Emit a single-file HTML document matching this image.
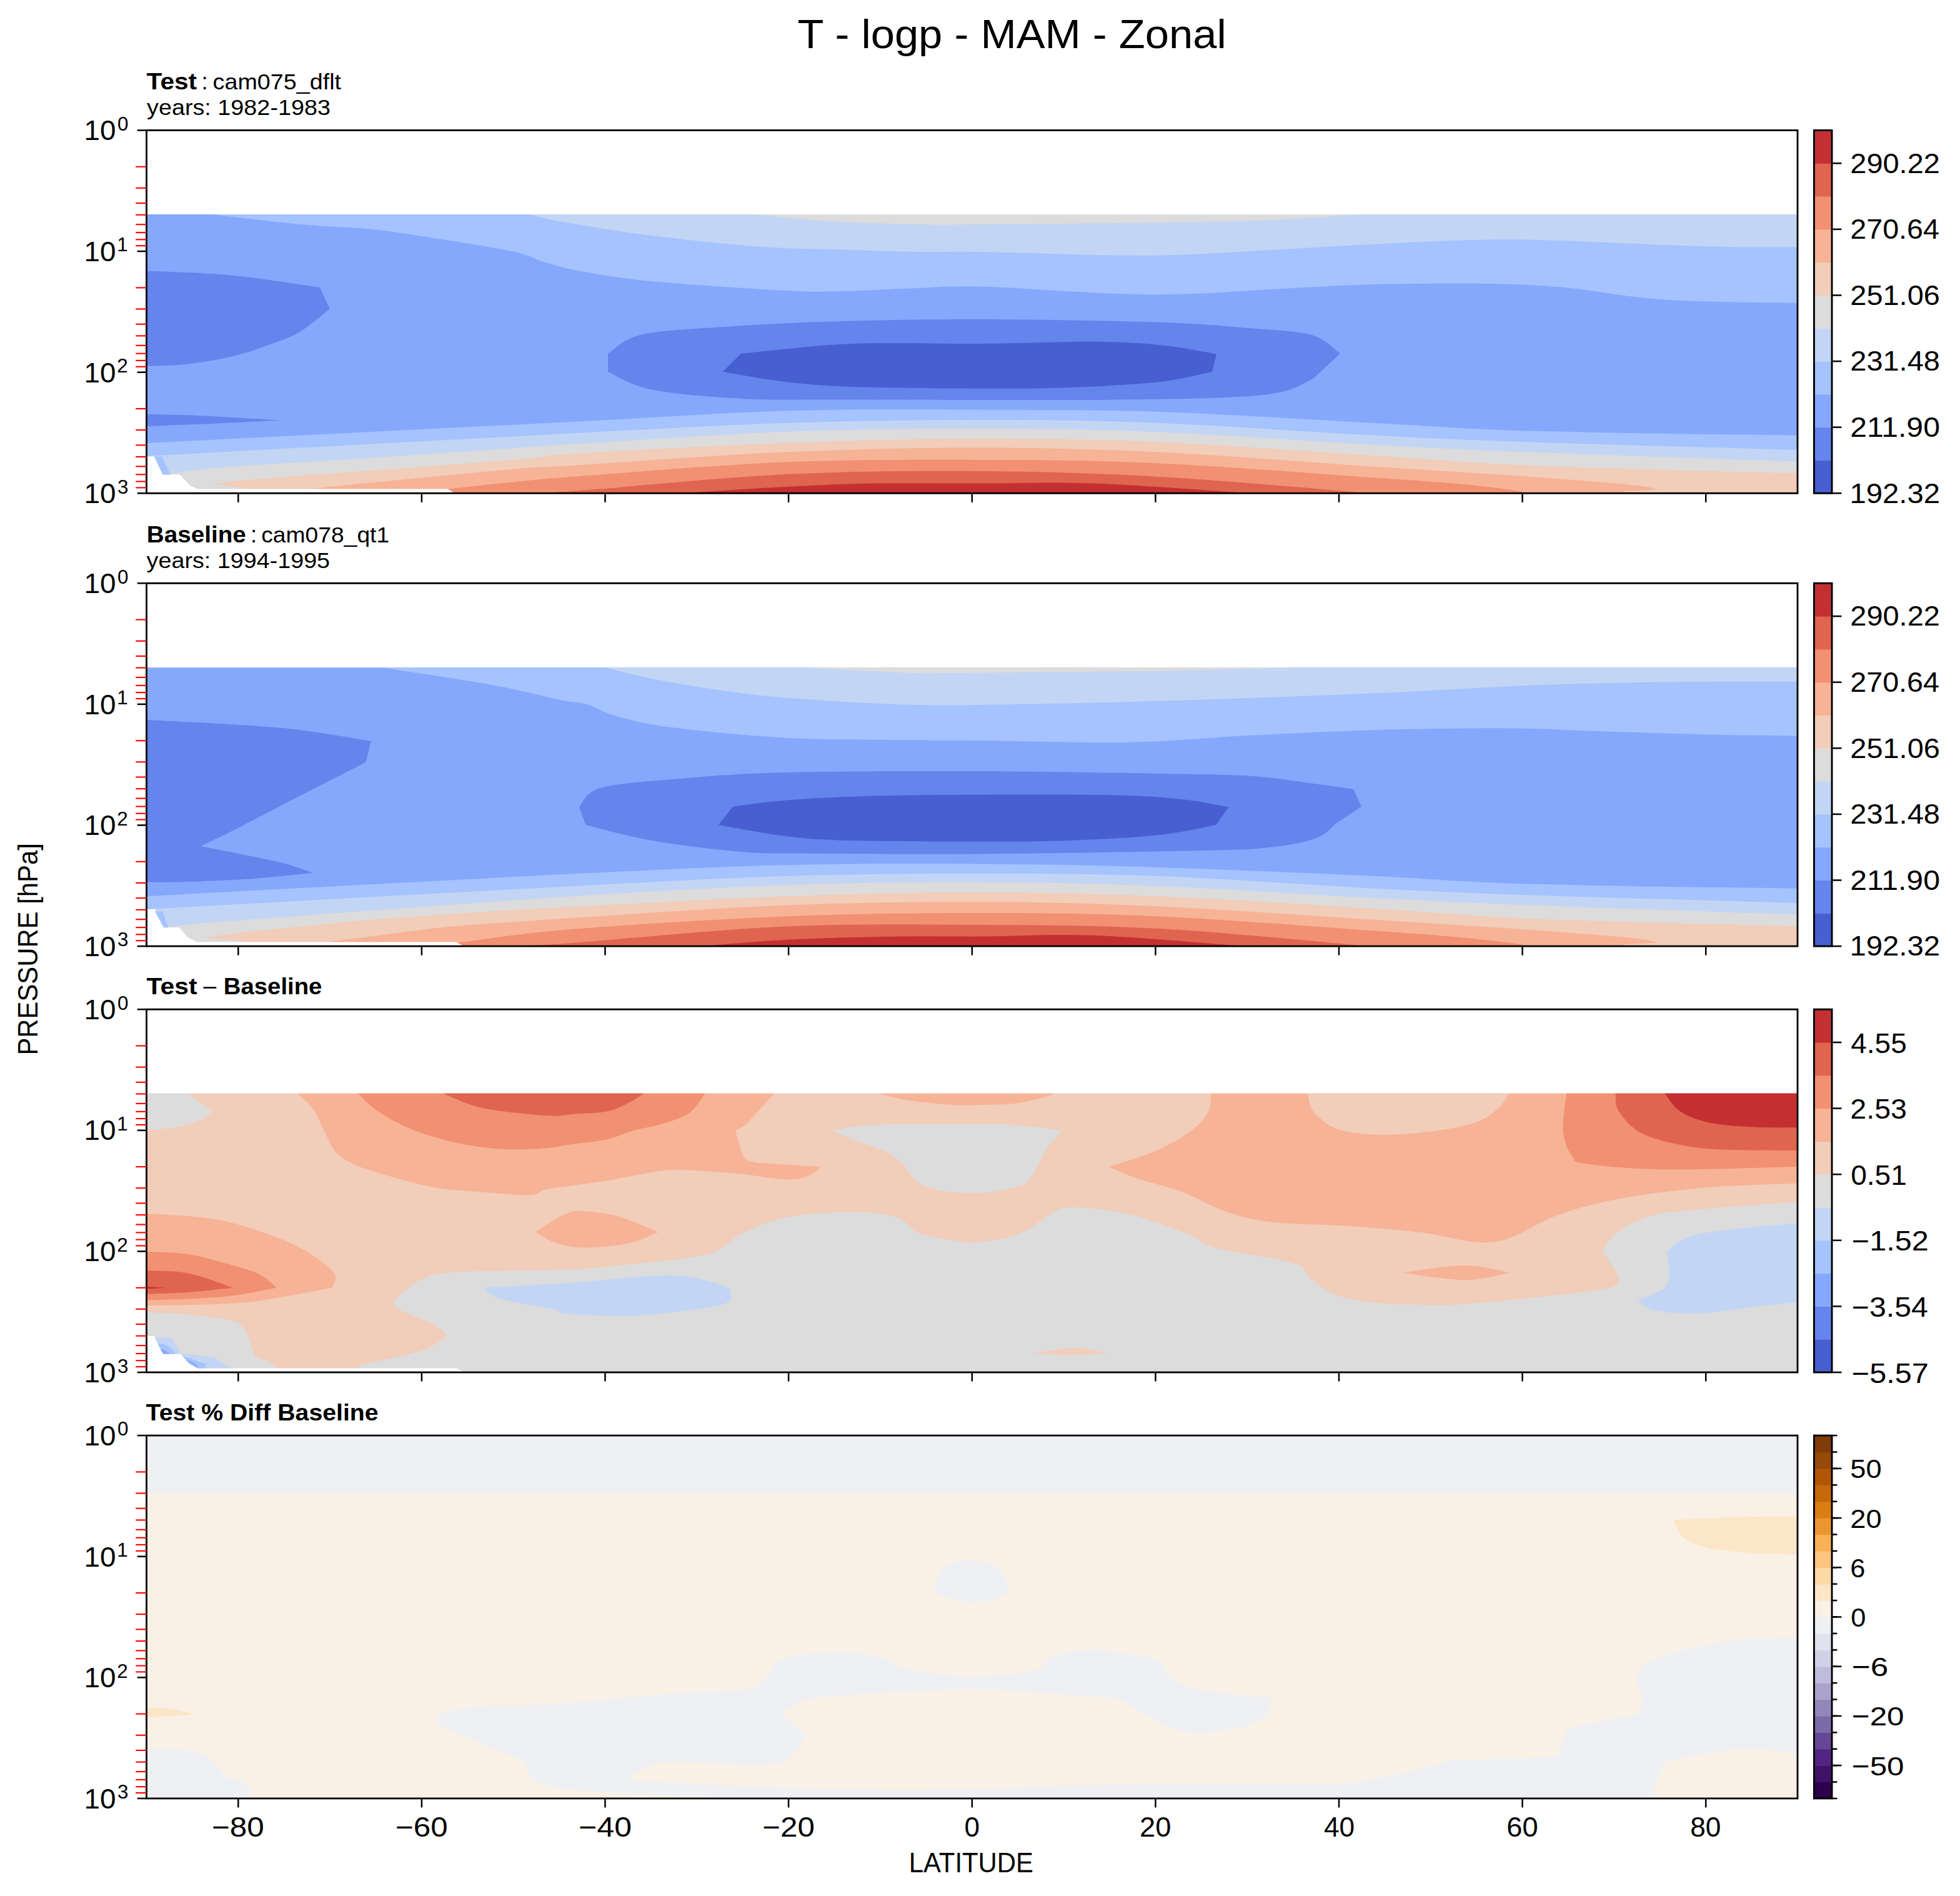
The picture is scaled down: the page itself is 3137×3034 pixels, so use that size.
<!DOCTYPE html><html><head><meta charset="utf-8"><style>html,body{margin:0;padding:0;background:#fff;width:3137px;height:3034px;overflow:hidden}</style></head><body><svg width="3137" height="3034" viewBox="0 0 3137 3034" style="position:absolute;left:0;top:0" font-family='"Liberation Sans", sans-serif'>
<rect width="3137" height="3034" fill="#fff"/>
<clipPath id="c0"><rect x="234.5" y="208.5" width="2642.5" height="580.8"/></clipPath>
<g clip-path="url(#c0)">
<rect x="234.5" y="343.0" width="2642.5" height="447.0" fill="#85a8fc"/>
<path d="M234.5,343 C251.9,343 321.6,343 339,343 C362.5,345.7 438.7,355.2 480,359 C521.3,362.8 555.5,363 587,366 C618.5,369 630.3,371 669,377 C707.7,383 785,394.8 819,402 C853,409.2 854.5,414.7 873,420 C891.5,425.3 901.7,429 930,434 C958.3,439 988.5,444.8 1043,450 C1097.5,455.2 1206.5,462.3 1257,465 C1307.5,467.7 1310.3,466.7 1346,466 C1381.7,465.3 1433.7,462.2 1471,461 C1508.3,459.8 1517.8,457.1 1570,458.6 C1622.2,460.1 1727.5,468.1 1784,470 C1840.5,471.9 1867.3,471.2 1909,470 C1950.7,468.8 1985.5,465.5 2034,463 C2082.5,460.5 2142.5,456.5 2200,455 C2257.5,453.5 2328.3,453.2 2379,454 C2429.7,454.8 2462.3,456.3 2504,460 C2545.7,463.7 2590.3,472.6 2629,476.4 C2667.7,480.1 2694.7,481.1 2736,482.5 C2777.3,483.9 2853.5,484.6 2877,485 L2877,343 L234.5,343 Z" fill="#a5c3fe"/>
<path d="M848,343 C856.7,345 867.5,349.3 900,355 C932.5,360.7 989.5,370.3 1043,377 C1096.5,383.7 1167.5,391.2 1221,395 C1274.5,398.8 1322.3,398.7 1364,400 C1405.7,401.3 1436.7,402.5 1471,403 C1505.3,403.5 1517.8,402.1 1570,403 C1622.2,403.9 1730.5,407.9 1784,408.6 C1837.5,409.4 1849.3,408.9 1891,407.5 C1932.7,406.1 1982.5,402.8 2034,400 C2085.5,397.2 2142.5,393.4 2200,390.7 C2257.5,388 2325.5,384.4 2379,383.6 C2432.5,382.8 2461.5,384.2 2521,386 C2580.5,387.8 2676.7,392.7 2736,394.3 C2795.3,395.9 2853.5,395.5 2877,395.7 L2877,343 L848,343 Z" fill="#c3d5f4"/>
<path d="M1207,343 C1227.3,344.8 1285,351.3 1329,354 C1373,356.7 1430.8,358.2 1471,359 C1511.2,359.8 1505.8,359.5 1570,359 C1634.2,358.5 1778.7,357.2 1856,356 C1933.3,354.8 1980.5,354.2 2034,352 C2087.5,349.8 2153.2,344.5 2177,343 L2177,343 L1207,343 Z" fill="#dddcdc"/>
<path d="M234.5,433.6 C251.6,434.3 307.9,436.1 337,438 C366.1,439.9 379.8,441.3 409,445 C438.2,448.7 494.8,457.5 512,460 C514.7,465.7 525.3,488.3 528,494 C520,500.2 496.3,521.3 480,531 C463.7,540.7 447.8,545.5 430,552 C412.2,558.5 394.5,564.9 373,570 C351.5,575.1 324.1,579.8 301,582.5 C277.9,585.2 245.6,585.4 234.5,586 C234.5,560.6 234.5,459 234.5,433.6 Z" fill="#6485ec"/>
<path d="M234.5,663 C240.9,663.1 255.9,663.1 273,663.6 C290.1,664.1 307.8,664.5 337,666 C366.2,667.5 429.5,671.4 448,672.5 C429.5,673.4 372.6,676.4 337,678 C301.4,679.6 251.6,681.3 234.5,682 C234.5,678.8 234.5,666.2 234.5,663 Z" fill="#6485ec"/>
<path d="M973,566 C981.7,561 995.5,543.1 1025,536 C1054.5,528.9 1099.3,527.2 1150,523.6 C1200.7,520 1259,516.7 1329,514.6 C1399,512.5 1482.2,510.8 1570,511 C1657.8,511.2 1784.5,513.4 1856,515.7 C1927.5,518 1958.5,521.6 1999,525 C2039.5,528.4 2074.7,529.2 2099,536 C2123.3,542.8 2137.3,560.8 2145,565.7 C2137.8,572.4 2109.2,599 2102,605.7 C2093.7,609.2 2075.2,622 2052,627 C2028.8,632 2007.7,633.9 1963,636 C1918.3,638.1 1849.5,638.9 1784,639.6 C1718.5,640.3 1645.8,640 1570,640 C1494.2,640 1393,639.9 1329,639.6 C1265,639.3 1233.7,640.7 1186,638 C1138.3,635.3 1078.5,630.8 1043,623.6 C1007.5,616.4 984.7,599.8 973,595 C973,590.2 973,570.8 973,566 Z" fill="#6485ec"/>
<path d="M1157,595 C1161.8,590.1 1181.2,570.6 1186,565.7 C1215.7,563.1 1300,552.6 1364,550 C1428,547.4 1505.8,550.5 1570,550 C1634.2,549.5 1701.3,546.5 1749,546.8 C1796.7,547.1 1823,548.7 1856,552 C1889,555.3 1931.8,564 1947,566.4 C1945.8,571.2 1941.2,590.2 1940,595 C1926,597.7 1893.8,606.8 1856,611 C1818.2,615.2 1760.7,618.2 1713,620 C1665.3,621.8 1628.2,622 1570,621.8 C1511.8,621.6 1416.2,620.8 1364,619 C1311.8,617.2 1291.5,615 1257,611 C1222.5,607 1173.7,597.7 1157,595 Z" fill="#485fd1"/>
<path d="M234.5,709 C347.9,703.3 744.6,683.6 915,675 C1085.4,666.4 1147.8,660.7 1257,657.5 C1366.2,654.3 1470.2,655.5 1570,655.7 C1669.8,656 1751,655.5 1856,659 C1961,662.5 2101,671.9 2200,677 C2299,682.1 2337.2,686.3 2450,689.6 C2562.8,692.9 2805.8,695.6 2877,696.8 L2877,790 L234.5,790 Z" fill="#a5c3fe"/>
<path d="M234.5,730 C347.9,723.9 744.6,702.3 915,693.5 C1085.4,684.7 1147.8,680.6 1257,677 C1366.2,673.4 1470.2,671.8 1570,671.8 C1669.8,671.8 1751,672.8 1856,677 C1961,681.2 2101,691.7 2200,696.8 C2299,701.9 2337.2,703.6 2450,707.5 C2562.8,711.4 2805.8,717.9 2877,720 L2877,790 L234.5,790 Z" fill="#c3d5f4"/>
<path d="M234.5,760 C243.4,759.3 273.4,757.5 288,756 C302.6,754.5 306.2,752.7 322,751 C337.8,749.3 347.3,748.4 383,746 C418.7,743.6 461.5,741.5 536,736.6 C610.5,731.7 766.8,721 830,716.7 C893.2,712.4 843.8,715.3 915,711 C986.2,706.7 1147.8,695.2 1257,691 C1366.2,686.8 1470.2,685.9 1570,686 C1669.8,686.1 1751,687.1 1856,691.4 C1961,695.7 2101,706.6 2200,712 C2299,717.4 2337.2,719.2 2450,723.6 C2562.8,728 2805.8,736.1 2877,738.6 L2877,790 L234.5,790 Z" fill="#dddcdc"/>
<path d="M390.7,781 C382.4,780.1 349,776.3 340.7,775.4 C347.8,774.3 355.5,771.6 383,769 C410.5,766.4 431,765.3 505.5,759.6 C580,753.9 761.8,740.6 830,735 C898.2,729.4 843.8,730.3 915,726 C986.2,721.7 1147.8,713 1257,709 C1366.2,705 1470.2,702.2 1570,702 C1669.8,701.8 1751,703 1856,707.5 C1961,712 2101,722.8 2200,729 C2299,735.2 2337.2,740.2 2450,745 C2562.8,749.8 2805.8,755.4 2877,757.5 L2877,790 L390.7,790 Z" fill="#f1cdba"/>
<path d="M496,782.5 C512.8,780.8 541.3,777.4 597,772 C652.7,766.6 777,754.5 830,750 C883,745.5 843.8,749.4 915,745 C986.2,740.6 1147.8,728.4 1257,723.6 C1366.2,718.8 1470.2,716.4 1570,716.4 C1669.8,716.4 1751,718.5 1856,723.6 C1961,728.7 2101,740.2 2200,746.8 C2299,753.4 2381.5,758.1 2450,763 C2518.5,767.9 2576.8,772.6 2611,776 C2645.2,779.4 2647.7,782.3 2655,783.6 C2645.8,784.1 2609.2,786 2600,786.5 L2600,790 L496,790 Z" fill="#f7b396"/>
<path d="M716.7,782.5 C730.8,781 768,776.9 801,773.6 C834,770.4 839,768.7 915,763 C991,757.3 1147.8,744.1 1257,739.6 C1366.2,735.1 1470.2,735.7 1570,736 C1669.8,736.3 1751,736.6 1856,741.4 C1961,746.2 2118.8,759 2200,764.6 C2281.2,770.2 2304.3,771.4 2343,775 C2381.7,778.6 2415.8,783.5 2432,786 C2448.2,788.5 2438.7,789.3 2440,790 L2440,790 L716.7,790 Z" fill="#f29072"/>
<path d="M837,788 C850,787.7 845,790.8 915,786 C985,781.2 1147.8,764.3 1257,759 C1366.2,753.7 1470.2,753.3 1570,754 C1669.8,754.7 1754.8,757.3 1856,763 C1957.2,768.7 2123,783.5 2177,788 C2231,792.5 2179.5,789.7 2180,790 L2180,790 L837,790 Z" fill="#e0654f"/>
<path d="M1079,790 C1108.7,788.2 1203.5,781.7 1257,779 C1310.5,776.3 1347.8,774.5 1400,773.6 C1452.2,772.7 1511.8,773.6 1570,773.6 C1628.2,773.6 1680.5,771.2 1749,773.6 C1817.5,776 1940.8,785.3 1981,788 C2021.2,790.7 1988.5,789.7 1990,790 L1990,790 L1079,790 Z" fill="#c43032"/>
<polygon points="234.5,730.5 246.8,730.5 260.6,759.6 288.2,759.6 303.5,776.4 315.7,782.5 716.7,782.5 726,788 726,790 234.5,790" fill="#fff"/>
<polygon points="246.8,730.5 260.6,759.6 272.9,759.6 259,730.5" fill="#a5c3fe"/>
</g>
<clipPath id="c1"><rect x="234.5" y="933.3" width="2642.5" height="580.8"/></clipPath>
<g clip-path="url(#c1)">
<rect x="234.5" y="1068.2" width="2642.5" height="446.79999999999995" fill="#85a8fc"/>
<path d="M234.5,1068.2 C296.9,1068.2 546.2,1068.2 608.6,1068.2 C622.8,1070.3 661.9,1075.6 694,1080.7 C726.1,1085.8 766.7,1091.9 801,1098.6 C835.3,1105.3 877,1116 900,1120.7 C923,1125.4 924.4,1122.7 939.3,1127 C954.2,1131.3 966.1,1140.5 989.3,1146.8 C1012.5,1153.1 1034,1158.9 1078.6,1164.6 C1123.2,1170.2 1197.5,1177.4 1257,1180.7 C1316.5,1184 1383.5,1183.6 1435.7,1184.3 C1487.9,1185 1509,1184.4 1570,1185 C1631,1185.6 1730.6,1189.2 1802,1187.9 C1873.4,1186.6 1932.3,1180.3 1998.6,1177 C2064.9,1173.7 2130.8,1170.1 2200,1168.2 C2269.2,1166.3 2354.5,1165.1 2414,1165.4 C2473.5,1165.7 2503.4,1168.3 2557,1170 C2610.6,1171.7 2682.4,1174.1 2735.7,1175.4 C2789,1176.7 2853.4,1177.5 2877,1177.9 L2877,1068.2 L234.5,1068.2 Z" fill="#a5c3fe"/>
<path d="M969.6,1068.2 C981.8,1071.2 1012.9,1080 1043,1086 C1073.1,1092 1114.3,1098.9 1150,1104 C1185.7,1109.1 1209.4,1112.6 1257,1116.4 C1304.6,1120.2 1383.5,1125.1 1435.7,1127 C1487.9,1128.9 1500,1128.8 1570,1127.9 C1640,1127 1750.7,1124.9 1855.7,1121.8 C1960.7,1118.7 2100.9,1113.5 2200,1109.3 C2299.1,1105.1 2372.6,1099.8 2450,1096.8 C2527.4,1093.8 2593.1,1092.4 2664.3,1091.4 C2735.5,1090.4 2841.6,1090.8 2877,1090.7 L2877,1068.2 L969.6,1068.2 Z" fill="#c3d5f4"/>
<path d="M1292.9,1068.2 C1319.7,1069.6 1407.4,1075 1453.6,1076.4 C1499.8,1077.8 1503,1076.9 1570,1076.4 C1637,1075.9 1771.2,1075 1855.7,1073.6 C1940.2,1072.2 2040.1,1069.1 2077,1068.2 L2077,1068.2 L1292.9,1068.2 Z" fill="#dddcdc"/>
<path d="M234.5,1152 C257.6,1153.2 332.1,1156.6 373,1159.3 C413.9,1162 443.2,1163.5 480,1168 C516.8,1172.5 575,1183 594,1186 C592.6,1191.7 586.8,1214.3 585.4,1220 C567.8,1228.9 512.5,1256.9 480,1273.6 C447.6,1290.3 411.5,1309.3 390.7,1320 C369.9,1330.7 366.6,1332.3 355,1338 C343.4,1343.7 326.7,1351.3 321,1354 C341.5,1358.2 413.9,1371.9 444,1379 C474.1,1386.1 491.8,1393.8 501.4,1396.8 C485.9,1398.3 441.9,1403.3 408.6,1405.7 C375.3,1408.1 330.4,1410 301.4,1411 C272.4,1412 245.7,1411.7 234.5,1411.8 C234.5,1368.5 234.5,1195.3 234.5,1152 Z" fill="#6485ec"/>
<path d="M926.8,1291.4 C932.4,1286.3 935.4,1268.4 960.7,1261 C986,1253.6 1029.2,1251 1078.6,1246.8 C1128,1242.6 1175.1,1238.1 1257,1236 C1338.9,1233.9 1470.2,1234 1570,1234.3 C1669.8,1234.6 1784.3,1236.7 1855.7,1237.9 C1927.1,1239.1 1959.9,1239.1 1998.6,1241.4 C2037.3,1243.8 2059.9,1248.4 2087.9,1252 C2115.9,1255.6 2153.3,1261.1 2166.4,1262.9 C2168.5,1267.5 2176.9,1286.1 2179,1290.7 C2172.2,1295.3 2144.8,1313.6 2137.9,1318.2 C2132.5,1322.1 2123,1335.2 2105.7,1341.4 C2088.4,1347.7 2063.8,1352.4 2034,1355.7 C2004.2,1359 2004.3,1359.2 1927,1361 C1849.7,1362.8 1675.7,1365.6 1570,1366.4 C1464.3,1367.2 1357,1366.3 1292.9,1365.7 C1228.9,1365.1 1227.4,1366.4 1185.7,1362.9 C1144,1359.5 1084.4,1352.2 1043,1345 C1001.6,1337.8 955.1,1324.2 937.5,1320 C935.7,1315.2 928.6,1296.2 926.8,1291.4 Z" fill="#6485ec"/>
<path d="M1150,1320 C1153.8,1315.1 1169.2,1295.6 1173,1290.7 C1187,1289 1219.2,1283.6 1257,1280.7 C1294.8,1277.8 1347.8,1275.1 1400,1273.6 C1452.2,1272.1 1506,1272 1570,1271.8 C1634,1271.6 1730.4,1271.3 1784,1272.5 C1837.6,1273.7 1861,1275.8 1891.4,1279 C1921.8,1282.2 1953.9,1289.3 1966.4,1291.4 C1963.1,1296.2 1950.1,1315.2 1946.8,1320 C1931.6,1322.7 1894.7,1331.8 1855.7,1336 C1816.7,1340.2 1760.5,1343.2 1712.9,1345 C1665.3,1346.8 1628.2,1346.8 1570,1346.8 C1511.8,1346.8 1416.2,1346.5 1364,1345 C1311.8,1343.5 1292.7,1342.1 1257,1337.9 C1221.3,1333.7 1167.8,1323 1150,1320 Z" fill="#485fd1"/>
<path d="M234.5,1434.3 C347.9,1428.3 744.6,1406.9 915,1398.6 C1085.4,1390.3 1147.8,1387 1257,1384.3 C1366.2,1381.6 1470.2,1381.9 1570,1382.5 C1669.8,1383.1 1750.7,1384.7 1855.7,1387.9 C1960.7,1391.2 2100.9,1397.5 2200,1402 C2299.1,1406.5 2337.2,1411.3 2450,1414.6 C2562.8,1417.9 2805.8,1420.6 2877,1421.8 L2877,1515 L234.5,1515 Z" fill="#a5c3fe"/>
<path d="M234.5,1455 C347.9,1448.9 744.6,1427 915,1418.2 C1085.4,1409.4 1147.8,1405.4 1257,1402 C1366.2,1398.6 1470.2,1397.9 1570,1397.9 C1669.8,1397.9 1750.7,1398 1855.7,1402 C1960.7,1406 2100.9,1416.7 2200,1421.8 C2299.1,1426.9 2337.2,1428.6 2450,1432.5 C2562.8,1436.4 2805.8,1442.9 2877,1445 L2877,1515 L234.5,1515 Z" fill="#c3d5f4"/>
<path d="M234.5,1485 C243.2,1484.4 263.9,1483.3 287,1481.4 C310.1,1479.5 268.3,1481.4 373,1473.6 C477.7,1465.8 767.7,1444.1 915,1434.6 C1062.3,1425.1 1147.8,1420.2 1257,1416.4 C1366.2,1412.6 1470.2,1411.5 1570,1411.8 C1669.8,1412.1 1750.7,1414 1855.7,1418.2 C1960.7,1422.4 2100.9,1431.9 2200,1437 C2299.1,1442.1 2337.2,1444.2 2450,1448.6 C2562.8,1453 2805.8,1461.1 2877,1463.6 L2877,1515 L234.5,1515 Z" fill="#dddcdc"/>
<path d="M390.7,1506.4 C380.2,1505.4 338.4,1501.4 328,1500.4 C337.2,1499.1 358.5,1495.7 383,1492.8 C407.5,1489.9 439.2,1486.8 474.9,1483.3 C510.6,1479.8 556.5,1475 597.3,1471.6 C638.1,1468.2 680.9,1465.5 719.7,1462.8 C758.5,1460.1 797.5,1457.4 830,1455.5 C862.5,1453.6 843.8,1454.7 915,1451.2 C986.2,1447.7 1147.8,1438.2 1257,1434.3 C1366.2,1430.4 1470.2,1427.9 1570,1427.9 C1669.8,1427.9 1750.7,1430 1855.7,1434.3 C1960.7,1438.6 2100.9,1448 2200,1453.9 C2299.1,1459.9 2337.2,1465.2 2450,1470 C2562.8,1474.8 2805.8,1480.4 2877,1482.5 L2877,1515 L390.7,1515 Z" fill="#f1cdba"/>
<path d="M523.8,1507.3 C536,1505.8 564.6,1502.1 597.3,1498 C629.9,1493.9 680.9,1486.5 719.7,1482.7 C758.5,1478.9 797.5,1477.3 830,1475 C862.5,1472.7 843.8,1473.4 915,1469 C986.2,1464.6 1147.8,1452.9 1257,1448.6 C1366.2,1444.3 1470.2,1442.9 1570,1443.2 C1669.8,1443.5 1750.7,1445.6 1855.7,1450.4 C1960.7,1455.2 2100.9,1465.5 2200,1471.8 C2299.1,1478 2381.6,1483 2450,1487.9 C2518.4,1492.8 2576.5,1497.6 2610.7,1501 C2644.9,1504.4 2647.6,1507.2 2655,1508.4 C2645.8,1508.9 2609.2,1510.8 2600,1511.3 L2600,1515 L523.8,1515 Z" fill="#f7b396"/>
<path d="M730,1509 C760.8,1505.3 827.2,1494.1 915,1487 C1002.8,1479.9 1147.8,1470.7 1257,1466.4 C1366.2,1462.1 1470.2,1461 1570,1461 C1669.8,1461 1750.7,1461.6 1855.7,1466.4 C1960.7,1471.2 2118.8,1483.9 2200,1489.6 C2281.2,1495.3 2301.3,1496.5 2343,1500.4 C2384.7,1504.3 2431.3,1510.6 2450,1513 C2468.7,1515.4 2454.2,1514.7 2455,1515 L2455,1515 L730,1515 Z" fill="#f29072"/>
<path d="M837,1513 C850,1512.3 845,1514.1 915,1509 C985,1503.9 1147.8,1487.3 1257,1482.5 C1366.2,1477.7 1470.2,1479.4 1570,1480 C1669.8,1480.6 1754.5,1480.5 1855.7,1486 C1956.9,1491.5 2122.9,1508.2 2177,1513 C2231.1,1517.8 2179.5,1514.7 2180,1515 L2180,1515 L837,1515 Z" fill="#e0654f"/>
<path d="M1114,1515 C1137.8,1513.2 1203.4,1506.7 1257,1504 C1310.6,1501.3 1383.5,1499.5 1435.7,1498.6 C1487.9,1497.7 1517.8,1498.9 1570,1498.6 C1622.2,1498.3 1680.1,1494.4 1748.6,1496.8 C1817,1499.2 1940.5,1510 1980.7,1513 C2020.9,1516 1988.5,1514.7 1990,1515 L1990,1515 L1114,1515 Z" fill="#c43032"/>
<polygon points="234.5,1455 247.9,1455 262,1484.3 287,1484.3 301.4,1500.4 315.7,1507.5 730,1507.5 740.7,1513 740.7,1515 234.5,1515" fill="#fff"/>
<polygon points="247.9,1458.6 262,1484.3 269.3,1484.3 260.4,1458.6" fill="#a5c3fe"/>
</g>
<clipPath id="c2"><rect x="234.5" y="1615.2" width="2642.5" height="580.8"/></clipPath>
<g clip-path="url(#c2)">
<rect x="234.5" y="1749.7" width="2642.5" height="447.29999999999995" fill="#f1cdba"/>
<path d="M476.4,1749.7 C480.6,1753.9 494.2,1764.8 501.4,1775 C508.5,1785.2 513.4,1799.4 519.3,1810.7 C525.2,1822 528.7,1834 537,1842.9 C545.3,1851.8 555,1857.8 569.3,1864.3 C583.6,1870.8 602.1,1876.1 622.9,1882.1 C643.7,1888 670.5,1895.8 694.3,1900 C718.1,1904.2 740.1,1904.9 765.7,1907 C791.3,1909.1 830,1913.1 847.9,1912.5 C865.8,1911.9 861.7,1906.1 872.9,1903.6 C884.1,1901.1 898.6,1899.7 915,1897.3 C931.4,1894.9 947.1,1893.3 971.4,1889.3 C995.7,1885.3 1036.9,1875.9 1060.7,1873.2 C1084.5,1870.5 1093.5,1872.3 1114.3,1873.2 C1135.1,1874.1 1161.9,1876.2 1185.7,1878.6 C1209.5,1881 1239.1,1886.9 1257,1887.5 C1274.9,1888.1 1283.4,1885.4 1292.9,1882 C1302.5,1878.6 1310.7,1869.6 1314.3,1867.1 C1304.8,1866.5 1275.5,1865 1257,1863.6 C1238.5,1862.2 1214.9,1861.5 1203.6,1858.9 C1192.3,1856.3 1193.8,1856.5 1189.3,1848.2 C1184.8,1839.9 1178.9,1815.5 1176.8,1808.9 C1180.1,1806.8 1186,1806.3 1196.4,1796.4 C1206.8,1786.5 1232.2,1757.5 1239.3,1749.7 C1112.1,1749.7 603.5,1749.7 476.4,1749.7 Z" fill="#f7b396"/>
<path d="M1405.4,1749.7 C1413.4,1751.5 1433.7,1757.7 1453.6,1760.7 C1473.5,1763.7 1505.6,1766.7 1525,1767.9 C1544.4,1769.1 1553.6,1768.2 1570,1767.9 C1586.4,1767.6 1607.5,1767.8 1623.6,1766 C1639.7,1764.2 1655.7,1759.8 1666.4,1757.1 C1677.1,1754.4 1684.3,1750.9 1687.9,1749.7 C1640.8,1749.7 1452.5,1749.7 1405.4,1749.7 Z" fill="#f7b396"/>
<path d="M1937.9,1749.7 C1937.3,1754.5 1939.1,1769 1934.3,1778.6 C1929.5,1788.2 1922.4,1797 1909.3,1807.1 C1896.2,1817.2 1878,1829.3 1855.7,1839.3 C1833.4,1849.3 1788.8,1862.5 1775.4,1867.1 C1782.8,1870.2 1800.7,1879 1820,1885.7 C1839.3,1892.4 1867.6,1898.2 1891.4,1907.1 C1915.2,1916 1939.1,1931.2 1962.9,1939.3 C1986.7,1947.3 2004.5,1951.8 2034.3,1955.4 C2064.1,1959 2113.8,1959.1 2141.4,1960.7 C2169,1962.3 2176.6,1962.9 2200,1965 C2223.4,1967.1 2255.3,1969.5 2282.1,1973.2 C2308.9,1977 2338.7,1986 2360.7,1987.5 C2382.7,1989 2392.3,1989.2 2414.3,1982.1 C2436.3,1974.9 2463.1,1955.3 2492.9,1944.6 C2522.7,1933.9 2552.4,1925.3 2592.9,1917.9 C2633.4,1910.5 2688.3,1904 2735.7,1900 C2783,1896 2853.4,1894.7 2877,1893.6 C2877,1869.6 2877,1773.7 2877,1749.7 C2720.5,1749.7 2094.4,1749.7 1937.9,1749.7 Z" fill="#f7b396"/>
<path d="M2093.2,1749.7 C2094.7,1754.5 2094.1,1769 2102.1,1778.6 C2110.1,1788.2 2122.9,1800.9 2141.4,1807.1 C2159.9,1813.3 2188.2,1815.4 2212.9,1816 C2237.6,1816.6 2264.7,1814 2289.3,1810.7 C2313.9,1807.4 2342.8,1802.4 2360.7,1796.4 C2378.5,1790.5 2387.2,1782.8 2396.4,1775 C2405.6,1767.2 2412.7,1753.9 2416,1749.7 C2362.2,1749.7 2147,1749.7 2093.2,1749.7 Z" fill="#f1cdba"/>
<path d="M572.9,1749.7 C578.2,1754.5 590.7,1769 605,1778.6 C619.3,1788.1 637.8,1798.7 658.6,1807 C679.4,1815.3 706.2,1823.3 730,1828.6 C753.8,1833.9 777.6,1837.1 801.4,1838.6 C825.2,1840.1 854,1838.8 872.9,1837.5 C891.8,1836.2 898.6,1833.4 915,1831 C931.4,1828.6 954.9,1826.9 971.4,1823.2 C987.9,1819.5 999.4,1813.2 1014.3,1809 C1029.2,1804.8 1045.8,1803 1060.7,1798.2 C1075.6,1793.4 1092.3,1788.5 1103.6,1780.4 C1114.9,1772.3 1124.4,1754.8 1128.6,1749.7 C1036,1749.7 665.5,1749.7 572.9,1749.7 Z" fill="#f29072"/>
<path d="M708.6,1749.7 C718.1,1753.3 744.3,1766 765.7,1771.4 C787.1,1776.8 816.2,1779.6 837,1782 C857.8,1784.4 877.7,1785.5 890.7,1785.7 C903.7,1785.9 901.5,1784.2 915,1783 C928.5,1781.8 956.1,1781.7 971.4,1778.6 C986.7,1775.5 997.2,1769.1 1007,1764.3 C1016.8,1759.5 1026.5,1752.1 1030.4,1749.7 C976.8,1749.7 762.2,1749.7 708.6,1749.7 Z" fill="#e0654f"/>
<path d="M2507.1,1749.7 C2506.2,1759.9 2500.3,1794 2501.8,1810.7 C2503.3,1827.4 2509.8,1841.4 2516,1850 C2522.2,1858.6 2514.6,1858.9 2539.3,1862.5 C2564,1866.1 2608,1870.6 2664.3,1871.4 C2720.6,1872.2 2841.6,1867.8 2877,1867.1 C2877,1847.5 2877,1769.3 2877,1749.7 C2815.3,1749.7 2568.8,1749.7 2507.1,1749.7 Z" fill="#f29072"/>
<path d="M2585.7,1749.7 C2586.6,1754.5 2583.8,1767.8 2591,1778.6 C2598.2,1789.4 2610.4,1805.1 2628.6,1814.3 C2646.8,1823.5 2676.2,1829.6 2700,1833.9 C2723.8,1838.2 2741.9,1838.8 2771.4,1840 C2800.9,1841.2 2859.4,1840.9 2877,1841.1 C2877,1825.9 2877,1764.9 2877,1749.7 C2828.4,1749.7 2634.2,1749.7 2585.7,1749.7 Z" fill="#e0654f"/>
<path d="M2664.3,1749.7 C2668.5,1754.5 2677.4,1770.8 2689.3,1778.6 C2701.2,1786.4 2716.1,1792.2 2735.7,1796.4 C2755.3,1800.6 2783.5,1802.3 2807.1,1803.6 C2830.7,1804.9 2865.3,1804.2 2877,1804.3 C2877,1795.2 2877,1758.8 2877,1749.7 C2841.6,1749.7 2699.8,1749.7 2664.3,1749.7 Z" fill="#c43032"/>
<path d="M234.5,1749.7 C245.3,1749.7 288.8,1749.7 299.6,1749.7 C306.5,1754.5 333.9,1773.8 340.7,1778.6 C337.1,1781 328.8,1788.7 319.3,1792.9 C309.8,1797.1 297.7,1800.9 283.6,1803.6 C269.5,1806.3 242.7,1808 234.5,1808.9 C234.5,1799 234.5,1759.6 234.5,1749.7 Z" fill="#dddcdc"/>
<path d="M1332.1,1808.9 C1343.4,1807.4 1360.3,1801.7 1400,1800 C1439.7,1798.3 1532.7,1798.9 1570,1798.9 C1607.3,1798.9 1601.9,1798.3 1623.6,1800 C1645.3,1801.7 1687.6,1807.4 1700.4,1808.9 C1696.5,1813.4 1683.9,1825.9 1677.1,1835.7 C1670.2,1845.5 1664.6,1858.7 1659.3,1867.9 C1654,1877.1 1651,1885.8 1645,1891.1 C1639,1896.4 1636.1,1897 1623.6,1900 C1611.1,1903 1589.4,1908 1570,1908.9 C1550.6,1909.8 1524.1,1908.4 1507.1,1905.4 C1490.1,1902.4 1478,1897.9 1467.9,1891.1 C1457.8,1884.2 1454.7,1872.3 1446.4,1864.3 C1438.1,1856.3 1431.6,1849.8 1417.9,1842.9 C1404.2,1836.1 1378.6,1828.9 1364.3,1823.2 C1350,1817.5 1337.5,1811.3 1332.1,1808.9 Z" fill="#dddcdc"/>
<path d="M856.8,1971.4 C862.4,1967.8 881.1,1955.3 890.7,1950 C900.3,1944.7 906.8,1941.3 914.3,1939.3 C921.8,1937.3 923.2,1937 935.7,1938.2 C948.2,1939.4 969.6,1940.9 989.3,1946.4 C1008.9,1951.9 1042.9,1967.2 1053.6,1971.4 C1045.8,1974.4 1026.7,1985.1 1007,1989.3 C987.4,1993.5 955.1,1996.4 935.7,1996.4 C916.3,1996.4 903.9,1993.5 890.7,1989.3 C877.6,1985.1 862.4,1974.4 856.8,1971.4 Z" fill="#f7b396"/>
<path d="M234.5,1941.8 C251.6,1943.2 308,1945.7 337,1950 C366,1954.3 384.8,1960.2 408.6,1967.9 C432.4,1975.6 459.2,1985.1 480,1996.4 C500.8,2007.7 525,2025 533.6,2035.7 C542.2,2046.4 532.1,2056.5 531.8,2060.7 C517.2,2063.4 470.5,2072.6 444,2076.8 C417.5,2081 407.8,2083.6 372.9,2085.7 C338,2087.8 257.6,2088.7 234.5,2089.3 C234.5,2064.7 234.5,1966.4 234.5,1941.8 Z" fill="#f7b396"/>
<path d="M234.5,2002.9 C245.7,2003.6 278.3,2003.3 301.4,2007 C324.5,2010.7 353.8,2019.6 372.9,2025 C391.9,2030.4 404.1,2033.3 415.7,2039.3 C427.3,2045.2 438,2057.1 442.5,2060.7 C430.9,2062.8 396.4,2070.2 372.9,2073.2 C349.4,2076.2 324.5,2077.4 301.4,2078.6 C278.3,2079.8 245.7,2080.1 234.5,2080.4 C234.5,2067.5 234.5,2015.8 234.5,2002.9 Z" fill="#f29072"/>
<path d="M234.5,2032.9 C245.7,2033.7 278.3,2032.9 301.4,2037.5 C324.5,2042.1 361,2056.8 372.9,2060.7 C361,2061.9 324.5,2066.2 301.4,2067.9 C278.3,2069.6 245.7,2070.2 234.5,2070.7 C234.5,2064.4 234.5,2039.2 234.5,2032.9 Z" fill="#e0654f"/>
<polygon points="234.5,2059 264,2060.7 234.5,2062.5" fill="#c43032"/>
<path d="M572.9,2189.3 C575.2,2188.1 569.8,2186.8 587,2182 C604.2,2177.2 654.9,2168.1 676.4,2160.7 C697.9,2153.3 709.2,2141.4 715.7,2137.5 C712.1,2134.5 707.4,2126.8 694.3,2119.6 C681.2,2112.4 647.4,2101.1 637,2094.6 C626.6,2088.1 632.7,2082.8 631.8,2080.4 C633.3,2078.9 633.3,2077.1 640.7,2071.4 C648.1,2065.7 661.5,2052.3 676.4,2046.4 C691.3,2040.5 690.2,2038.3 730,2035.7 C769.8,2033.1 868.8,2033.1 915,2031 C961.2,2028.9 970.8,2027.2 1007,2023.2 C1043.2,2019.2 1102.3,2015.1 1132.1,2007.1 C1161.9,1999.1 1164.9,1984.8 1185.7,1975 C1206.5,1965.2 1227.2,1954.2 1257,1948.2 C1286.8,1942.2 1334.5,1939.3 1364.3,1939.3 C1394.1,1939.3 1417.8,1942.5 1435.7,1948.2 C1453.6,1953.9 1453.5,1966.7 1471.4,1973.2 C1489.3,1979.8 1526.5,1985.1 1542.9,1987.5 C1559.3,1989.9 1554.8,1989.9 1570,1987.5 C1585.2,1985.1 1613.5,1981.8 1634.3,1973.2 C1655.1,1964.6 1676,1942.2 1695,1935.7 C1714,1929.2 1727.8,1932.1 1748.6,1933.9 C1769.4,1935.7 1794.4,1939.6 1820,1946.4 C1845.6,1953.2 1881.3,1966.7 1902.1,1975 C1922.9,1983.3 1917,1988.7 1945,1996.4 C1973,2004.1 2044.4,2013.1 2070,2021.4 C2095.6,2029.7 2086.7,2037.8 2098.6,2046.4 C2110.5,2055 2122.3,2066.6 2141.4,2073.2 C2160.5,2079.8 2191.5,2083.3 2212.9,2085.7 C2234.3,2088.1 2254.3,2087 2270,2087.5 C2285.7,2088 2283,2089.8 2307.1,2088.6 C2331.2,2087.4 2369.7,2085.1 2414.3,2080.4 C2459,2075.8 2546.1,2068.1 2575,2060.7 C2603.9,2053.2 2585.4,2039.9 2587.5,2035.7 C2583.6,2030 2568.2,2007.5 2564.3,2001.8 C2568.5,1996.7 2575.6,1980.9 2589.3,1971.4 C2603,1961.9 2622,1950.8 2646.4,1944.6 C2670.8,1938.3 2697.3,1937.5 2735.7,1933.9 C2774.1,1930.3 2853.4,1925 2877,1923.2 C2877,1968.8 2877,2151.4 2877,2197 C2493,2197 956.9,2197 572.9,2197 C572.9,2195.7 572.9,2190.6 572.9,2189.3 Z" fill="#dddcdc"/>
<path d="M772.9,2060.7 C794.1,2059.5 849,2056.9 900,2053.6 C951,2050.3 1033.9,2039.8 1078.6,2041 C1123.2,2042.2 1153,2057.4 1167.9,2060.7 C1168.5,2063.4 1170.8,2074.1 1171.4,2076.8 C1167.8,2078.9 1171.4,2084.8 1150,2089.3 C1128.6,2093.8 1072.7,2100.9 1042.9,2103.6 C1013.1,2106.3 995.2,2105.7 971.4,2105.4 C947.6,2105.1 913.5,2103.3 900,2101.8 C886.5,2100.3 907.1,2100.3 890.7,2096.4 C874.3,2092.5 821,2084.6 801.4,2078.6 C781.8,2072.6 777.6,2063.7 772.9,2060.7 Z" fill="#c3d5f4"/>
<path d="M2877,1957.1 C2850.5,1960.1 2752.8,1967.5 2717.9,1975 C2683.1,1982.5 2676.2,1997.3 2667.9,2001.8 C2668.5,2007.5 2672,2025.9 2671.4,2035.7 C2670.8,2045.5 2672.6,2053.2 2664.3,2060.7 C2656,2068.1 2628.6,2077.1 2621.4,2080.4 C2625.6,2083.1 2630.3,2092.8 2646.4,2096.4 C2662.5,2100 2691.1,2102.7 2717.9,2101.8 C2744.7,2100.9 2780.6,2094.1 2807.1,2091.1 C2833.6,2088.1 2865.3,2085.1 2877,2083.9 C2877,2062.8 2877,1978.2 2877,1957.1 Z" fill="#c3d5f4"/>
<path d="M2244.6,2036.4 C2261,2034.5 2314,2025 2342.9,2025 C2371.8,2025 2405.4,2034.5 2417.9,2036.4 C2405.4,2038.4 2371.8,2048.2 2342.9,2048.2 C2314,2048.2 2261,2038.4 2244.6,2036.4 Z" fill="#f7b396"/>
<path d="M1650.4,2166 C1662,2164.5 1699.5,2157.1 1720,2157.1 C1740.5,2157.1 1764.7,2164.5 1773.6,2166 C1764.7,2166.3 1740.5,2168 1720,2168 C1699.5,2168 1662,2166.3 1650.4,2166 Z" fill="#f1cdba"/>
<path d="M234.5,2100 C245.7,2100.6 278.3,2101.2 301.4,2103.6 C324.5,2106 357.4,2109.6 372.9,2114.3 C388.4,2119.1 388.9,2124.1 394.3,2132.1 C399.7,2140.1 402,2155.9 405,2162.5 C408,2169.1 407.9,2168.7 412.1,2171.4 C416.3,2174.1 424.6,2175.6 430,2178.6 C435.4,2181.6 441.9,2186.2 444.3,2189.3 C446.7,2192.4 444.3,2195.7 444.3,2197 C409.3,2197 269.5,2197 234.5,2197 C234.5,2180.8 234.5,2116.2 234.5,2100 Z" fill="#dddcdc"/>
<polygon points="234.5,2137.9 247.2,2137.9 261.3,2166.6 289.3,2166.6 302.7,2182.5 316.7,2189.5 730,2189.5 740.7,2194.6 740.7,2197 234.5,2197" fill="#fff"/>
<polygon points="247.2,2139.8 274.6,2141 290,2166.6 261.3,2166.6" fill="#c3d5f4"/>
<polygon points="252.3,2150 260.6,2150 272.1,2155.7 280.4,2166.6 261.3,2166.6" fill="#a5c3fe"/>
<polygon points="256.8,2158.9 261.3,2159.5 272.1,2166.6 261.3,2166.6" fill="#85a8fc"/>
<polygon points="289.3,2166.6 301.4,2167.2 342.2,2171.7 357.6,2182.5 375.4,2189.5 316.7,2189.5 302.7,2182.5" fill="#c3d5f4"/>
<polygon points="292.5,2171.7 301.4,2172.3 316.7,2178.7 329.5,2182.5 326.9,2189.5 316.7,2189.5" fill="#a5c3fe"/>
<polygon points="297.6,2176.8 304,2178 314.2,2183.8 316.7,2189.5" fill="#85a8fc"/>
</g>
<clipPath id="c3"><rect x="234.5" y="2297.1" width="2642.5" height="580.8"/></clipPath>
<g clip-path="url(#c3)">
<rect x="234.5" y="2297.1" width="2642.5" height="581.4000000000001" fill="#f9f1e6"/>
<rect x="234.5" y="2297.1" width="2642.5" height="92.20000000000027" fill="#eff0f4"/>
<path d="M234.5,2732.9 C239.7,2733 252.5,2731.9 265.7,2733.6 C278.9,2735.3 305.9,2741.3 313.9,2742.9 C305.9,2743.5 278.9,2745.6 265.7,2746.4 C252.5,2747.2 239.7,2747.7 234.5,2747.9 C234.5,2745.4 234.5,2735.4 234.5,2732.9 Z" fill="#fce6c8"/>
<path d="M2678.6,2432.1 C2696.4,2431.3 2752.6,2428.4 2785.7,2427.5 C2818.8,2426.6 2861.8,2426.9 2877,2426.8 C2877,2436.9 2877,2477.4 2877,2487.5 C2865.3,2487.2 2830.7,2487.4 2807.1,2485.7 C2783.5,2484 2754.4,2481.7 2735.7,2477.5 C2716.9,2473.3 2704.1,2468.3 2694.6,2460.7 C2685.1,2453.1 2681.3,2436.9 2678.6,2432.1 Z" fill="#fce6c8"/>
<path d="M1494.6,2547.1 C1496.7,2541.2 1499,2519.7 1507.1,2511.4 C1515.1,2503.1 1532.4,2499.2 1542.9,2497.1 C1553.4,2495 1562.5,2497.7 1570,2498.9 C1577.5,2500.1 1582.2,2501.3 1587.9,2504.3 C1593.6,2507.3 1599.2,2509.7 1603.9,2516.8 C1608.7,2523.9 1614.3,2542.1 1616.4,2547.1 C1612.2,2549.2 1599.1,2556.9 1591.4,2559.6 C1583.7,2562.3 1578.1,2562.6 1570,2563.2 C1561.9,2563.8 1553.4,2564.9 1542.9,2563.2 C1532.4,2561.5 1515,2555.7 1507,2553 C1499,2550.3 1496.7,2548.1 1494.6,2547.1 Z" fill="#eff0f4"/>
<path d="M234.5,2797.1 C245.7,2797.7 284.3,2797.7 301.4,2800.7 C318.5,2803.7 326.3,2807.3 337,2815 C347.7,2822.7 357.9,2842 365.7,2847.1 C373.5,2852.2 377.7,2842.4 383.6,2845.4 C389.6,2848.4 398.4,2861.7 401.4,2865 C400.5,2867.2 396.9,2876.2 396,2878.5 C369.1,2878.5 261.4,2878.5 234.5,2878.5 C234.5,2864.9 234.5,2810.7 234.5,2797.1 Z" fill="#eff0f4"/>
<path d="M701.4,2743.6 C712.1,2741.5 732.6,2734.1 765.7,2731.1 C798.8,2728.1 847.9,2729.3 900,2725.7 C952.1,2722.1 1028,2713.8 1078.6,2709.6 C1129.2,2705.4 1174.4,2709.9 1203.6,2700.7 C1232.8,2691.5 1229.8,2663.8 1253.6,2654.3 C1277.4,2644.8 1319,2643.6 1346.4,2643.6 C1373.8,2643.6 1403,2650.4 1417.9,2654.3 C1432.8,2658.2 1420.8,2662.6 1435.7,2666.8 C1450.6,2671 1484.7,2676.6 1507.1,2679.3 C1529.5,2682 1544.6,2684.1 1570,2682.9 C1595.4,2681.7 1640.2,2677.5 1659.3,2672.1 C1678.3,2666.7 1669.4,2656 1684.3,2650.7 C1699.2,2645.3 1721.8,2639.4 1748.6,2640 C1775.4,2640.6 1825.4,2648.4 1845,2654.3 C1864.6,2660.2 1858.7,2668.8 1866.4,2675.7 C1874.1,2682.5 1881.3,2690.6 1891.4,2695.4 C1901.5,2700.2 1903,2700.4 1927.1,2704.3 C1951.2,2708.2 2017.9,2716.2 2036.1,2718.6 C2033.4,2723.9 2032.2,2742.4 2020,2750.7 C2007.8,2759 1984.3,2765.3 1962.9,2768.6 C1941.5,2771.9 1915.2,2775.8 1891.4,2770.4 C1867.6,2765 1837.8,2745 1820,2736.4 C1802.2,2727.8 1808.1,2723.1 1784.3,2718.6 C1760.5,2714.1 1712.8,2712.2 1677.1,2709.6 C1641.4,2707 1598.3,2703.8 1570,2702.9 C1541.7,2702 1550.3,2702 1507.1,2704.3 C1463.9,2706.6 1353.5,2710.6 1310.7,2716.8 C1267.9,2723.1 1260.1,2737.6 1250,2741.8 C1256.8,2747.8 1284.2,2771.6 1291.1,2777.5 C1285.4,2784.1 1271.6,2809.1 1257,2816.8 C1242.4,2824.5 1236.3,2823.3 1203.6,2823.9 C1170.9,2824.5 1094.3,2816.2 1060.7,2820.4 C1027.1,2824.6 1011.6,2844.2 1001.8,2848.9 C1032.5,2850.4 1131.2,2855.5 1185.7,2857.9 C1240.2,2860.3 1264.5,2862.3 1328.6,2863.2 C1392.6,2864.1 1500,2864.4 1570,2863.2 C1640,2862 1677.2,2857.5 1748.6,2856 C1820,2854.5 1933.1,2854.6 1998.6,2854.3 C2064.1,2854 2107.8,2855.5 2141.4,2854.3 C2175,2853.1 2172.4,2852.5 2200,2847.1 C2227.6,2841.7 2286.3,2827.1 2307.1,2822.1 C2327.9,2817.1 2296.4,2818.6 2325,2816.8 C2353.6,2815 2450,2814.1 2478.6,2811.4 C2507.2,2808.7 2492.2,2806.3 2496.4,2800.7 C2500.6,2795 2499.4,2783.8 2503.6,2777.5 C2507.8,2771.2 2501.8,2768.8 2521.4,2763.2 C2541,2757.5 2604.7,2746.9 2621.4,2743.6 C2622.6,2739.4 2628.9,2728.4 2628.6,2718.6 C2628.3,2708.8 2616,2695.3 2619.6,2684.6 C2623.2,2673.9 2625.9,2664.1 2650,2654.3 C2674.1,2644.5 2726.5,2631.3 2764.3,2625.7 C2802.1,2620 2858.2,2621.3 2877,2620.4 C2877,2663.4 2877,2835.5 2877,2878.5 C2595.2,2878.5 1467.8,2878.5 1186,2878.5 C1155,2877.1 1042.7,2872.2 1000,2870 C957.3,2867.8 948.2,2866.4 930,2865 C911.8,2863.6 903.8,2864.4 890.7,2861.4 C877.6,2858.4 860.4,2854.2 851.4,2847.1 C842.4,2840 848.3,2826.9 837,2818.6 C825.7,2810.3 798.5,2803.6 783.6,2797.1 C768.8,2790.6 761,2785.2 747.9,2779.3 C734.8,2773.4 712.8,2767.4 705,2761.4 C697.2,2755.4 702,2746.6 701.4,2743.6 Z" fill="#eff0f4"/>
<path d="M2671.4,2818.6 C2691,2810.9 2745.8,2803.7 2771.4,2800.7 C2797,2797.7 2807.4,2799.8 2825,2800.7 C2842.6,2801.6 2868.3,2805.2 2877,2806.1 C2877,2818.2 2877,2866.4 2877,2878.5 C2838.3,2878.5 2683.3,2878.5 2644.6,2878.5 C2646.1,2873.3 2649.1,2857.1 2653.6,2847.1 C2658.1,2837.1 2651.8,2826.3 2671.4,2818.6 Z" fill="#f9f1e6"/>
</g>
<rect x="234.5" y="208.5" width="2642.5" height="580.8" fill="none" stroke="#000" stroke-width="2.8"/>
<line x1="219.7" y1="208.5" x2="234.5" y2="208.5" stroke="#000" stroke-width="2.5"/>
<line x1="219.7" y1="402.1" x2="234.5" y2="402.1" stroke="#000" stroke-width="2.5"/>
<line x1="219.7" y1="595.7" x2="234.5" y2="595.7" stroke="#000" stroke-width="2.5"/>
<line x1="219.7" y1="789.3" x2="234.5" y2="789.3" stroke="#000" stroke-width="2.5"/>
<line x1="217.2" y1="266.8" x2="234.5" y2="266.8" stroke="#ff0000" stroke-width="2.1"/>
<line x1="217.2" y1="300.9" x2="234.5" y2="300.9" stroke="#ff0000" stroke-width="2.1"/>
<line x1="217.2" y1="325.1" x2="234.5" y2="325.1" stroke="#ff0000" stroke-width="2.1"/>
<line x1="217.2" y1="343.8" x2="234.5" y2="343.8" stroke="#ff0000" stroke-width="2.1"/>
<line x1="217.2" y1="359.2" x2="234.5" y2="359.2" stroke="#ff0000" stroke-width="2.1"/>
<line x1="217.2" y1="372.1" x2="234.5" y2="372.1" stroke="#ff0000" stroke-width="2.1"/>
<line x1="217.2" y1="383.3" x2="234.5" y2="383.3" stroke="#ff0000" stroke-width="2.1"/>
<line x1="217.2" y1="393.2" x2="234.5" y2="393.2" stroke="#ff0000" stroke-width="2.1"/>
<line x1="217.2" y1="460.4" x2="234.5" y2="460.4" stroke="#ff0000" stroke-width="2.1"/>
<line x1="217.2" y1="494.5" x2="234.5" y2="494.5" stroke="#ff0000" stroke-width="2.1"/>
<line x1="217.2" y1="518.7" x2="234.5" y2="518.7" stroke="#ff0000" stroke-width="2.1"/>
<line x1="217.2" y1="537.4" x2="234.5" y2="537.4" stroke="#ff0000" stroke-width="2.1"/>
<line x1="217.2" y1="552.8" x2="234.5" y2="552.8" stroke="#ff0000" stroke-width="2.1"/>
<line x1="217.2" y1="565.7" x2="234.5" y2="565.7" stroke="#ff0000" stroke-width="2.1"/>
<line x1="217.2" y1="576.9" x2="234.5" y2="576.9" stroke="#ff0000" stroke-width="2.1"/>
<line x1="217.2" y1="586.8" x2="234.5" y2="586.8" stroke="#ff0000" stroke-width="2.1"/>
<line x1="217.2" y1="654" x2="234.5" y2="654" stroke="#ff0000" stroke-width="2.1"/>
<line x1="217.2" y1="688.1" x2="234.5" y2="688.1" stroke="#ff0000" stroke-width="2.1"/>
<line x1="217.2" y1="712.3" x2="234.5" y2="712.3" stroke="#ff0000" stroke-width="2.1"/>
<line x1="217.2" y1="731" x2="234.5" y2="731" stroke="#ff0000" stroke-width="2.1"/>
<line x1="217.2" y1="746.4" x2="234.5" y2="746.4" stroke="#ff0000" stroke-width="2.1"/>
<line x1="217.2" y1="759.3" x2="234.5" y2="759.3" stroke="#ff0000" stroke-width="2.1"/>
<line x1="217.2" y1="770.5" x2="234.5" y2="770.5" stroke="#ff0000" stroke-width="2.1"/>
<line x1="217.2" y1="780.4" x2="234.5" y2="780.4" stroke="#ff0000" stroke-width="2.1"/>
<line x1="381.3" y1="789.3" x2="381.3" y2="803.8" stroke="#000" stroke-width="2.5"/>
<line x1="674.9" y1="789.3" x2="674.9" y2="803.8" stroke="#000" stroke-width="2.5"/>
<line x1="968.5" y1="789.3" x2="968.5" y2="803.8" stroke="#000" stroke-width="2.5"/>
<line x1="1262.1" y1="789.3" x2="1262.1" y2="803.8" stroke="#000" stroke-width="2.5"/>
<line x1="1555.8" y1="789.3" x2="1555.8" y2="803.8" stroke="#000" stroke-width="2.5"/>
<line x1="1849.4" y1="789.3" x2="1849.4" y2="803.8" stroke="#000" stroke-width="2.5"/>
<line x1="2143" y1="789.3" x2="2143" y2="803.8" stroke="#000" stroke-width="2.5"/>
<line x1="2436.6" y1="789.3" x2="2436.6" y2="803.8" stroke="#000" stroke-width="2.5"/>
<line x1="2730.2" y1="789.3" x2="2730.2" y2="803.8" stroke="#000" stroke-width="2.5"/>
<rect x="234.5" y="933.3" width="2642.5" height="580.8" fill="none" stroke="#000" stroke-width="2.8"/>
<line x1="219.7" y1="933.3" x2="234.5" y2="933.3" stroke="#000" stroke-width="2.5"/>
<line x1="219.7" y1="1126.9" x2="234.5" y2="1126.9" stroke="#000" stroke-width="2.5"/>
<line x1="219.7" y1="1320.5" x2="234.5" y2="1320.5" stroke="#000" stroke-width="2.5"/>
<line x1="219.7" y1="1514.1" x2="234.5" y2="1514.1" stroke="#000" stroke-width="2.5"/>
<line x1="217.2" y1="991.6" x2="234.5" y2="991.6" stroke="#ff0000" stroke-width="2.1"/>
<line x1="217.2" y1="1025.7" x2="234.5" y2="1025.7" stroke="#ff0000" stroke-width="2.1"/>
<line x1="217.2" y1="1049.9" x2="234.5" y2="1049.9" stroke="#ff0000" stroke-width="2.1"/>
<line x1="217.2" y1="1068.6" x2="234.5" y2="1068.6" stroke="#ff0000" stroke-width="2.1"/>
<line x1="217.2" y1="1084" x2="234.5" y2="1084" stroke="#ff0000" stroke-width="2.1"/>
<line x1="217.2" y1="1096.9" x2="234.5" y2="1096.9" stroke="#ff0000" stroke-width="2.1"/>
<line x1="217.2" y1="1108.1" x2="234.5" y2="1108.1" stroke="#ff0000" stroke-width="2.1"/>
<line x1="217.2" y1="1118" x2="234.5" y2="1118" stroke="#ff0000" stroke-width="2.1"/>
<line x1="217.2" y1="1185.2" x2="234.5" y2="1185.2" stroke="#ff0000" stroke-width="2.1"/>
<line x1="217.2" y1="1219.3" x2="234.5" y2="1219.3" stroke="#ff0000" stroke-width="2.1"/>
<line x1="217.2" y1="1243.5" x2="234.5" y2="1243.5" stroke="#ff0000" stroke-width="2.1"/>
<line x1="217.2" y1="1262.2" x2="234.5" y2="1262.2" stroke="#ff0000" stroke-width="2.1"/>
<line x1="217.2" y1="1277.6" x2="234.5" y2="1277.6" stroke="#ff0000" stroke-width="2.1"/>
<line x1="217.2" y1="1290.5" x2="234.5" y2="1290.5" stroke="#ff0000" stroke-width="2.1"/>
<line x1="217.2" y1="1301.7" x2="234.5" y2="1301.7" stroke="#ff0000" stroke-width="2.1"/>
<line x1="217.2" y1="1311.6" x2="234.5" y2="1311.6" stroke="#ff0000" stroke-width="2.1"/>
<line x1="217.2" y1="1378.8" x2="234.5" y2="1378.8" stroke="#ff0000" stroke-width="2.1"/>
<line x1="217.2" y1="1412.9" x2="234.5" y2="1412.9" stroke="#ff0000" stroke-width="2.1"/>
<line x1="217.2" y1="1437.1" x2="234.5" y2="1437.1" stroke="#ff0000" stroke-width="2.1"/>
<line x1="217.2" y1="1455.8" x2="234.5" y2="1455.8" stroke="#ff0000" stroke-width="2.1"/>
<line x1="217.2" y1="1471.2" x2="234.5" y2="1471.2" stroke="#ff0000" stroke-width="2.1"/>
<line x1="217.2" y1="1484.1" x2="234.5" y2="1484.1" stroke="#ff0000" stroke-width="2.1"/>
<line x1="217.2" y1="1495.3" x2="234.5" y2="1495.3" stroke="#ff0000" stroke-width="2.1"/>
<line x1="217.2" y1="1505.2" x2="234.5" y2="1505.2" stroke="#ff0000" stroke-width="2.1"/>
<line x1="381.3" y1="1514.1" x2="381.3" y2="1528.6" stroke="#000" stroke-width="2.5"/>
<line x1="674.9" y1="1514.1" x2="674.9" y2="1528.6" stroke="#000" stroke-width="2.5"/>
<line x1="968.5" y1="1514.1" x2="968.5" y2="1528.6" stroke="#000" stroke-width="2.5"/>
<line x1="1262.1" y1="1514.1" x2="1262.1" y2="1528.6" stroke="#000" stroke-width="2.5"/>
<line x1="1555.8" y1="1514.1" x2="1555.8" y2="1528.6" stroke="#000" stroke-width="2.5"/>
<line x1="1849.4" y1="1514.1" x2="1849.4" y2="1528.6" stroke="#000" stroke-width="2.5"/>
<line x1="2143" y1="1514.1" x2="2143" y2="1528.6" stroke="#000" stroke-width="2.5"/>
<line x1="2436.6" y1="1514.1" x2="2436.6" y2="1528.6" stroke="#000" stroke-width="2.5"/>
<line x1="2730.2" y1="1514.1" x2="2730.2" y2="1528.6" stroke="#000" stroke-width="2.5"/>
<rect x="234.5" y="1615.2" width="2642.5" height="580.8" fill="none" stroke="#000" stroke-width="2.8"/>
<line x1="219.7" y1="1615.2" x2="234.5" y2="1615.2" stroke="#000" stroke-width="2.5"/>
<line x1="219.7" y1="1808.8" x2="234.5" y2="1808.8" stroke="#000" stroke-width="2.5"/>
<line x1="219.7" y1="2002.4" x2="234.5" y2="2002.4" stroke="#000" stroke-width="2.5"/>
<line x1="219.7" y1="2196" x2="234.5" y2="2196" stroke="#000" stroke-width="2.5"/>
<line x1="217.2" y1="1673.5" x2="234.5" y2="1673.5" stroke="#ff0000" stroke-width="2.1"/>
<line x1="217.2" y1="1707.6" x2="234.5" y2="1707.6" stroke="#ff0000" stroke-width="2.1"/>
<line x1="217.2" y1="1731.8" x2="234.5" y2="1731.8" stroke="#ff0000" stroke-width="2.1"/>
<line x1="217.2" y1="1750.5" x2="234.5" y2="1750.5" stroke="#ff0000" stroke-width="2.1"/>
<line x1="217.2" y1="1765.9" x2="234.5" y2="1765.9" stroke="#ff0000" stroke-width="2.1"/>
<line x1="217.2" y1="1778.8" x2="234.5" y2="1778.8" stroke="#ff0000" stroke-width="2.1"/>
<line x1="217.2" y1="1790" x2="234.5" y2="1790" stroke="#ff0000" stroke-width="2.1"/>
<line x1="217.2" y1="1799.9" x2="234.5" y2="1799.9" stroke="#ff0000" stroke-width="2.1"/>
<line x1="217.2" y1="1867.1" x2="234.5" y2="1867.1" stroke="#ff0000" stroke-width="2.1"/>
<line x1="217.2" y1="1901.2" x2="234.5" y2="1901.2" stroke="#ff0000" stroke-width="2.1"/>
<line x1="217.2" y1="1925.4" x2="234.5" y2="1925.4" stroke="#ff0000" stroke-width="2.1"/>
<line x1="217.2" y1="1944.1" x2="234.5" y2="1944.1" stroke="#ff0000" stroke-width="2.1"/>
<line x1="217.2" y1="1959.5" x2="234.5" y2="1959.5" stroke="#ff0000" stroke-width="2.1"/>
<line x1="217.2" y1="1972.4" x2="234.5" y2="1972.4" stroke="#ff0000" stroke-width="2.1"/>
<line x1="217.2" y1="1983.6" x2="234.5" y2="1983.6" stroke="#ff0000" stroke-width="2.1"/>
<line x1="217.2" y1="1993.5" x2="234.5" y2="1993.5" stroke="#ff0000" stroke-width="2.1"/>
<line x1="217.2" y1="2060.7" x2="234.5" y2="2060.7" stroke="#ff0000" stroke-width="2.1"/>
<line x1="217.2" y1="2094.8" x2="234.5" y2="2094.8" stroke="#ff0000" stroke-width="2.1"/>
<line x1="217.2" y1="2119" x2="234.5" y2="2119" stroke="#ff0000" stroke-width="2.1"/>
<line x1="217.2" y1="2137.7" x2="234.5" y2="2137.7" stroke="#ff0000" stroke-width="2.1"/>
<line x1="217.2" y1="2153.1" x2="234.5" y2="2153.1" stroke="#ff0000" stroke-width="2.1"/>
<line x1="217.2" y1="2166" x2="234.5" y2="2166" stroke="#ff0000" stroke-width="2.1"/>
<line x1="217.2" y1="2177.2" x2="234.5" y2="2177.2" stroke="#ff0000" stroke-width="2.1"/>
<line x1="217.2" y1="2187.1" x2="234.5" y2="2187.1" stroke="#ff0000" stroke-width="2.1"/>
<line x1="381.3" y1="2196" x2="381.3" y2="2210.5" stroke="#000" stroke-width="2.5"/>
<line x1="674.9" y1="2196" x2="674.9" y2="2210.5" stroke="#000" stroke-width="2.5"/>
<line x1="968.5" y1="2196" x2="968.5" y2="2210.5" stroke="#000" stroke-width="2.5"/>
<line x1="1262.1" y1="2196" x2="1262.1" y2="2210.5" stroke="#000" stroke-width="2.5"/>
<line x1="1555.8" y1="2196" x2="1555.8" y2="2210.5" stroke="#000" stroke-width="2.5"/>
<line x1="1849.4" y1="2196" x2="1849.4" y2="2210.5" stroke="#000" stroke-width="2.5"/>
<line x1="2143" y1="2196" x2="2143" y2="2210.5" stroke="#000" stroke-width="2.5"/>
<line x1="2436.6" y1="2196" x2="2436.6" y2="2210.5" stroke="#000" stroke-width="2.5"/>
<line x1="2730.2" y1="2196" x2="2730.2" y2="2210.5" stroke="#000" stroke-width="2.5"/>
<rect x="234.5" y="2297.1" width="2642.5" height="580.8" fill="none" stroke="#000" stroke-width="2.8"/>
<line x1="219.7" y1="2297.1" x2="234.5" y2="2297.1" stroke="#000" stroke-width="2.5"/>
<line x1="219.7" y1="2490.7" x2="234.5" y2="2490.7" stroke="#000" stroke-width="2.5"/>
<line x1="219.7" y1="2684.3" x2="234.5" y2="2684.3" stroke="#000" stroke-width="2.5"/>
<line x1="219.7" y1="2877.9" x2="234.5" y2="2877.9" stroke="#000" stroke-width="2.5"/>
<line x1="217.2" y1="2355.4" x2="234.5" y2="2355.4" stroke="#ff0000" stroke-width="2.1"/>
<line x1="217.2" y1="2389.5" x2="234.5" y2="2389.5" stroke="#ff0000" stroke-width="2.1"/>
<line x1="217.2" y1="2413.7" x2="234.5" y2="2413.7" stroke="#ff0000" stroke-width="2.1"/>
<line x1="217.2" y1="2432.4" x2="234.5" y2="2432.4" stroke="#ff0000" stroke-width="2.1"/>
<line x1="217.2" y1="2447.8" x2="234.5" y2="2447.8" stroke="#ff0000" stroke-width="2.1"/>
<line x1="217.2" y1="2460.7" x2="234.5" y2="2460.7" stroke="#ff0000" stroke-width="2.1"/>
<line x1="217.2" y1="2471.9" x2="234.5" y2="2471.9" stroke="#ff0000" stroke-width="2.1"/>
<line x1="217.2" y1="2481.8" x2="234.5" y2="2481.8" stroke="#ff0000" stroke-width="2.1"/>
<line x1="217.2" y1="2549" x2="234.5" y2="2549" stroke="#ff0000" stroke-width="2.1"/>
<line x1="217.2" y1="2583.1" x2="234.5" y2="2583.1" stroke="#ff0000" stroke-width="2.1"/>
<line x1="217.2" y1="2607.3" x2="234.5" y2="2607.3" stroke="#ff0000" stroke-width="2.1"/>
<line x1="217.2" y1="2626" x2="234.5" y2="2626" stroke="#ff0000" stroke-width="2.1"/>
<line x1="217.2" y1="2641.4" x2="234.5" y2="2641.4" stroke="#ff0000" stroke-width="2.1"/>
<line x1="217.2" y1="2654.3" x2="234.5" y2="2654.3" stroke="#ff0000" stroke-width="2.1"/>
<line x1="217.2" y1="2665.5" x2="234.5" y2="2665.5" stroke="#ff0000" stroke-width="2.1"/>
<line x1="217.2" y1="2675.4" x2="234.5" y2="2675.4" stroke="#ff0000" stroke-width="2.1"/>
<line x1="217.2" y1="2742.6" x2="234.5" y2="2742.6" stroke="#ff0000" stroke-width="2.1"/>
<line x1="217.2" y1="2776.7" x2="234.5" y2="2776.7" stroke="#ff0000" stroke-width="2.1"/>
<line x1="217.2" y1="2800.9" x2="234.5" y2="2800.9" stroke="#ff0000" stroke-width="2.1"/>
<line x1="217.2" y1="2819.6" x2="234.5" y2="2819.6" stroke="#ff0000" stroke-width="2.1"/>
<line x1="217.2" y1="2835" x2="234.5" y2="2835" stroke="#ff0000" stroke-width="2.1"/>
<line x1="217.2" y1="2847.9" x2="234.5" y2="2847.9" stroke="#ff0000" stroke-width="2.1"/>
<line x1="217.2" y1="2859.1" x2="234.5" y2="2859.1" stroke="#ff0000" stroke-width="2.1"/>
<line x1="217.2" y1="2869" x2="234.5" y2="2869" stroke="#ff0000" stroke-width="2.1"/>
<line x1="381.3" y1="2877.9" x2="381.3" y2="2892.4" stroke="#000" stroke-width="2.5"/>
<line x1="674.9" y1="2877.9" x2="674.9" y2="2892.4" stroke="#000" stroke-width="2.5"/>
<line x1="968.5" y1="2877.9" x2="968.5" y2="2892.4" stroke="#000" stroke-width="2.5"/>
<line x1="1262.1" y1="2877.9" x2="1262.1" y2="2892.4" stroke="#000" stroke-width="2.5"/>
<line x1="1555.8" y1="2877.9" x2="1555.8" y2="2892.4" stroke="#000" stroke-width="2.5"/>
<line x1="1849.4" y1="2877.9" x2="1849.4" y2="2892.4" stroke="#000" stroke-width="2.5"/>
<line x1="2143" y1="2877.9" x2="2143" y2="2892.4" stroke="#000" stroke-width="2.5"/>
<line x1="2436.6" y1="2877.9" x2="2436.6" y2="2892.4" stroke="#000" stroke-width="2.5"/>
<line x1="2730.2" y1="2877.9" x2="2730.2" y2="2892.4" stroke="#000" stroke-width="2.5"/>
<rect x="2903.4" y="736.5" width="28.6" height="53.4" fill="#485fd1"/>
<rect x="2903.4" y="683.7" width="28.6" height="53.4" fill="#6485ec"/>
<rect x="2903.4" y="630.9" width="28.6" height="53.4" fill="#85a8fc"/>
<rect x="2903.4" y="578.1" width="28.6" height="53.4" fill="#a5c3fe"/>
<rect x="2903.4" y="525.3" width="28.6" height="53.4" fill="#c3d5f4"/>
<rect x="2903.4" y="472.5" width="28.6" height="53.4" fill="#dddcdc"/>
<rect x="2903.4" y="419.7" width="28.6" height="53.4" fill="#f1cdba"/>
<rect x="2903.4" y="366.9" width="28.6" height="53.4" fill="#f7b396"/>
<rect x="2903.4" y="314.1" width="28.6" height="53.4" fill="#f29072"/>
<rect x="2903.4" y="261.3" width="28.6" height="53.4" fill="#e0654f"/>
<rect x="2903.4" y="208.5" width="28.6" height="53.4" fill="#c43032"/>
<rect x="2903.4" y="208.5" width="28.6" height="580.8" fill="none" stroke="#000" stroke-width="2.9"/>
<line x1="2932" y1="261.3" x2="2947.4" y2="261.3" stroke="#000" stroke-width="2.5"/>
<line x1="2932" y1="366.9" x2="2947.4" y2="366.9" stroke="#000" stroke-width="2.5"/>
<line x1="2932" y1="472.5" x2="2947.4" y2="472.5" stroke="#000" stroke-width="2.5"/>
<line x1="2932" y1="578.1" x2="2947.4" y2="578.1" stroke="#000" stroke-width="2.5"/>
<line x1="2932" y1="683.7" x2="2947.4" y2="683.7" stroke="#000" stroke-width="2.5"/>
<line x1="2932" y1="789.3" x2="2947.4" y2="789.3" stroke="#000" stroke-width="2.5"/>
<rect x="2903.4" y="1461.3" width="28.6" height="53.4" fill="#485fd1"/>
<rect x="2903.4" y="1408.5" width="28.6" height="53.4" fill="#6485ec"/>
<rect x="2903.4" y="1355.7" width="28.6" height="53.4" fill="#85a8fc"/>
<rect x="2903.4" y="1302.9" width="28.6" height="53.4" fill="#a5c3fe"/>
<rect x="2903.4" y="1250.1" width="28.6" height="53.4" fill="#c3d5f4"/>
<rect x="2903.4" y="1197.3" width="28.6" height="53.4" fill="#dddcdc"/>
<rect x="2903.4" y="1144.5" width="28.6" height="53.4" fill="#f1cdba"/>
<rect x="2903.4" y="1091.7" width="28.6" height="53.4" fill="#f7b396"/>
<rect x="2903.4" y="1038.9" width="28.6" height="53.4" fill="#f29072"/>
<rect x="2903.4" y="986.1" width="28.6" height="53.4" fill="#e0654f"/>
<rect x="2903.4" y="933.3" width="28.6" height="53.4" fill="#c43032"/>
<rect x="2903.4" y="933.3" width="28.6" height="580.8" fill="none" stroke="#000" stroke-width="2.9"/>
<line x1="2932" y1="986.1" x2="2947.4" y2="986.1" stroke="#000" stroke-width="2.5"/>
<line x1="2932" y1="1091.7" x2="2947.4" y2="1091.7" stroke="#000" stroke-width="2.5"/>
<line x1="2932" y1="1197.3" x2="2947.4" y2="1197.3" stroke="#000" stroke-width="2.5"/>
<line x1="2932" y1="1302.9" x2="2947.4" y2="1302.9" stroke="#000" stroke-width="2.5"/>
<line x1="2932" y1="1408.5" x2="2947.4" y2="1408.5" stroke="#000" stroke-width="2.5"/>
<line x1="2932" y1="1514.1" x2="2947.4" y2="1514.1" stroke="#000" stroke-width="2.5"/>
<rect x="2903.4" y="2143.2" width="28.6" height="53.4" fill="#485fd1"/>
<rect x="2903.4" y="2090.4" width="28.6" height="53.4" fill="#6485ec"/>
<rect x="2903.4" y="2037.6" width="28.6" height="53.4" fill="#85a8fc"/>
<rect x="2903.4" y="1984.8" width="28.6" height="53.4" fill="#a5c3fe"/>
<rect x="2903.4" y="1932" width="28.6" height="53.4" fill="#c3d5f4"/>
<rect x="2903.4" y="1879.2" width="28.6" height="53.4" fill="#dddcdc"/>
<rect x="2903.4" y="1826.4" width="28.6" height="53.4" fill="#f1cdba"/>
<rect x="2903.4" y="1773.6" width="28.6" height="53.4" fill="#f7b396"/>
<rect x="2903.4" y="1720.8" width="28.6" height="53.4" fill="#f29072"/>
<rect x="2903.4" y="1668" width="28.6" height="53.4" fill="#e0654f"/>
<rect x="2903.4" y="1615.2" width="28.6" height="53.4" fill="#c43032"/>
<rect x="2903.4" y="1615.2" width="28.6" height="580.8" fill="none" stroke="#000" stroke-width="2.9"/>
<line x1="2932" y1="1668" x2="2947.4" y2="1668" stroke="#000" stroke-width="2.5"/>
<line x1="2932" y1="1773.6" x2="2947.4" y2="1773.6" stroke="#000" stroke-width="2.5"/>
<line x1="2932" y1="1879.2" x2="2947.4" y2="1879.2" stroke="#000" stroke-width="2.5"/>
<line x1="2932" y1="1984.8" x2="2947.4" y2="1984.8" stroke="#000" stroke-width="2.5"/>
<line x1="2932" y1="2090.4" x2="2947.4" y2="2090.4" stroke="#000" stroke-width="2.5"/>
<line x1="2932" y1="2196" x2="2947.4" y2="2196" stroke="#000" stroke-width="2.5"/>
<rect x="2903.4" y="2851.5" width="28.6" height="27" fill="#2d004b"/>
<rect x="2903.4" y="2825.1" width="28.6" height="27" fill="#3f1268"/>
<rect x="2903.4" y="2798.7" width="28.6" height="27" fill="#522584"/>
<rect x="2903.4" y="2772.3" width="28.6" height="27" fill="#664697"/>
<rect x="2903.4" y="2745.9" width="28.6" height="27" fill="#7b6aa8"/>
<rect x="2903.4" y="2719.5" width="28.6" height="27" fill="#9287b9"/>
<rect x="2903.4" y="2693.1" width="28.6" height="27" fill="#aba3cd"/>
<rect x="2903.4" y="2666.7" width="28.6" height="27" fill="#bfbbda"/>
<rect x="2903.4" y="2640.3" width="28.6" height="27" fill="#d1d1e6"/>
<rect x="2903.4" y="2613.9" width="28.6" height="27" fill="#e1e2ee"/>
<rect x="2903.4" y="2587.5" width="28.6" height="27" fill="#eff0f4"/>
<rect x="2903.4" y="2561.1" width="28.6" height="27" fill="#f9f1e6"/>
<rect x="2903.4" y="2534.7" width="28.6" height="27" fill="#fce6c8"/>
<rect x="2903.4" y="2508.3" width="28.6" height="27" fill="#fed8a6"/>
<rect x="2903.4" y="2481.9" width="28.6" height="27" fill="#fdc57f"/>
<rect x="2903.4" y="2455.5" width="28.6" height="27" fill="#f9b158"/>
<rect x="2903.4" y="2429.1" width="28.6" height="27" fill="#ea9530"/>
<rect x="2903.4" y="2402.7" width="28.6" height="27" fill="#db7d12"/>
<rect x="2903.4" y="2376.3" width="28.6" height="27" fill="#c6690c"/>
<rect x="2903.4" y="2349.9" width="28.6" height="27" fill="#b05606"/>
<rect x="2903.4" y="2323.5" width="28.6" height="27" fill="#974907"/>
<rect x="2903.4" y="2297.1" width="28.6" height="27" fill="#7f3b08"/>
<rect x="2903.4" y="2297.1" width="28.6" height="580.8" fill="none" stroke="#000" stroke-width="2.9"/>
<line x1="2932" y1="2877.9" x2="2940.4" y2="2877.9" stroke="#000" stroke-width="2.5"/>
<line x1="2932" y1="2851.5" x2="2940.4" y2="2851.5" stroke="#000" stroke-width="2.5"/>
<line x1="2932" y1="2825.1" x2="2940.4" y2="2825.1" stroke="#000" stroke-width="2.5"/>
<line x1="2932" y1="2798.7" x2="2940.4" y2="2798.7" stroke="#000" stroke-width="2.5"/>
<line x1="2932" y1="2772.3" x2="2940.4" y2="2772.3" stroke="#000" stroke-width="2.5"/>
<line x1="2932" y1="2745.9" x2="2940.4" y2="2745.9" stroke="#000" stroke-width="2.5"/>
<line x1="2932" y1="2719.5" x2="2940.4" y2="2719.5" stroke="#000" stroke-width="2.5"/>
<line x1="2932" y1="2693.1" x2="2940.4" y2="2693.1" stroke="#000" stroke-width="2.5"/>
<line x1="2932" y1="2666.7" x2="2940.4" y2="2666.7" stroke="#000" stroke-width="2.5"/>
<line x1="2932" y1="2640.3" x2="2940.4" y2="2640.3" stroke="#000" stroke-width="2.5"/>
<line x1="2932" y1="2613.9" x2="2940.4" y2="2613.9" stroke="#000" stroke-width="2.5"/>
<line x1="2932" y1="2587.5" x2="2940.4" y2="2587.5" stroke="#000" stroke-width="2.5"/>
<line x1="2932" y1="2561.1" x2="2940.4" y2="2561.1" stroke="#000" stroke-width="2.5"/>
<line x1="2932" y1="2534.7" x2="2940.4" y2="2534.7" stroke="#000" stroke-width="2.5"/>
<line x1="2932" y1="2508.3" x2="2940.4" y2="2508.3" stroke="#000" stroke-width="2.5"/>
<line x1="2932" y1="2481.9" x2="2940.4" y2="2481.9" stroke="#000" stroke-width="2.5"/>
<line x1="2932" y1="2455.5" x2="2940.4" y2="2455.5" stroke="#000" stroke-width="2.5"/>
<line x1="2932" y1="2429.1" x2="2940.4" y2="2429.1" stroke="#000" stroke-width="2.5"/>
<line x1="2932" y1="2402.7" x2="2940.4" y2="2402.7" stroke="#000" stroke-width="2.5"/>
<line x1="2932" y1="2376.3" x2="2940.4" y2="2376.3" stroke="#000" stroke-width="2.5"/>
<line x1="2932" y1="2349.9" x2="2940.4" y2="2349.9" stroke="#000" stroke-width="2.5"/>
<line x1="2932" y1="2323.5" x2="2940.4" y2="2323.5" stroke="#000" stroke-width="2.5"/>
<line x1="2932" y1="2297.1" x2="2940.4" y2="2297.1" stroke="#000" stroke-width="2.5"/>
<line x1="2932" y1="2349.9" x2="2947.4" y2="2349.9" stroke="#000" stroke-width="2.5"/>
<line x1="2932" y1="2429.1" x2="2947.4" y2="2429.1" stroke="#000" stroke-width="2.5"/>
<line x1="2932" y1="2508.3" x2="2947.4" y2="2508.3" stroke="#000" stroke-width="2.5"/>
<line x1="2932" y1="2587.5" x2="2947.4" y2="2587.5" stroke="#000" stroke-width="2.5"/>
<line x1="2932" y1="2666.7" x2="2947.4" y2="2666.7" stroke="#000" stroke-width="2.5"/>
<line x1="2932" y1="2745.9" x2="2947.4" y2="2745.9" stroke="#000" stroke-width="2.5"/>
<line x1="2932" y1="2825.1" x2="2947.4" y2="2825.1" stroke="#000" stroke-width="2.5"/>
<text x="1276.6" y="77.1" font-size="65.6" font-weight="normal" text-anchor="start" textLength="686.1" lengthAdjust="spacingAndGlyphs">T - logp - MAM - Zonal</text>
<text x="234.6" y="143" font-size="37.3" font-weight="bold" text-anchor="start" textLength="80.5" lengthAdjust="spacingAndGlyphs">Test</text>
<text x="322.4" y="143" font-size="36.9" font-weight="normal" text-anchor="start">:</text>
<text x="340.6" y="142.9" font-size="35.9" font-weight="normal" text-anchor="start" textLength="205.5" lengthAdjust="spacingAndGlyphs">cam075_dflt</text>
<text x="235" y="183.9" font-size="35.9" font-weight="normal" text-anchor="start" textLength="294" lengthAdjust="spacingAndGlyphs">years: 1982-1983</text>
<text x="234.8" y="867.6" font-size="36.6" font-weight="bold" text-anchor="start" textLength="159.1" lengthAdjust="spacingAndGlyphs">Baseline</text>
<text x="400.9" y="867.9" font-size="36.8" font-weight="normal" text-anchor="start">:</text>
<text x="418.2" y="867.6" font-size="35.1" font-weight="normal" text-anchor="start" textLength="205" lengthAdjust="spacingAndGlyphs">cam078_qt1</text>
<text x="234.6" y="908.5" font-size="35.7" font-weight="normal" text-anchor="start" textLength="293.5" lengthAdjust="spacingAndGlyphs">years: 1994-1995</text>
<text x="234.6" y="1590.6" font-size="36.6" font-weight="bold" text-anchor="start" textLength="81" lengthAdjust="spacingAndGlyphs">Test</text>
<text x="357.8" y="1590.6" font-size="36.6" font-weight="bold" text-anchor="start" textLength="157.6" lengthAdjust="spacingAndGlyphs">Baseline</text>
<text x="233.6" y="2272.6" font-size="36.6" font-weight="bold" text-anchor="start" textLength="372" lengthAdjust="spacingAndGlyphs">Test % Diff Baseline</text>
<text x="1454.8" y="2996.1" font-size="44" font-weight="normal" text-anchor="start" textLength="199.1" lengthAdjust="spacingAndGlyphs">LATITUDE</text>
<text x="339" y="2939.4" font-size="44" font-weight="normal" text-anchor="start" textLength="83.8" lengthAdjust="spacingAndGlyphs">−80</text>
<text x="633" y="2939.4" font-size="44" font-weight="normal" text-anchor="start" textLength="83.7" lengthAdjust="spacingAndGlyphs">−60</text>
<text x="926.2" y="2939.4" font-size="44" font-weight="normal" text-anchor="start" textLength="84.8" lengthAdjust="spacingAndGlyphs">−40</text>
<text x="1220.2" y="2939.4" font-size="44" font-weight="normal" text-anchor="start" textLength="83.7" lengthAdjust="spacingAndGlyphs">−20</text>
<text x="1543.4" y="2939.4" font-size="44" font-weight="normal" text-anchor="start">0</text>
<text x="1824" y="2939.4" font-size="44" font-weight="normal" text-anchor="start" textLength="50.3" lengthAdjust="spacingAndGlyphs">20</text>
<text x="2119" y="2939.4" font-size="44" font-weight="normal" text-anchor="start" textLength="49.2" lengthAdjust="spacingAndGlyphs">40</text>
<text x="2411.2" y="2939.4" font-size="44" font-weight="normal" text-anchor="start" textLength="50.4" lengthAdjust="spacingAndGlyphs">60</text>
<text x="2705.2" y="2939.4" font-size="44" font-weight="normal" text-anchor="start" textLength="49.2" lengthAdjust="spacingAndGlyphs">80</text>
<text x="134.4" y="224.4" font-size="44.7" font-weight="normal" text-anchor="start" textLength="51" lengthAdjust="spacingAndGlyphs">10</text>
<text x="188.1" y="209" font-size="31.4" font-weight="normal" text-anchor="start">0</text>
<text x="134.4" y="417.6" font-size="44.7" font-weight="normal" text-anchor="start" textLength="51" lengthAdjust="spacingAndGlyphs">10</text>
<text x="187.2" y="402.2" font-size="31.4" font-weight="normal" text-anchor="start">1</text>
<text x="134.4" y="611.5" font-size="44.7" font-weight="normal" text-anchor="start" textLength="51" lengthAdjust="spacingAndGlyphs">10</text>
<text x="187.2" y="596.1" font-size="31.4" font-weight="normal" text-anchor="start">2</text>
<text x="134.4" y="805.4" font-size="44.7" font-weight="normal" text-anchor="start" textLength="51" lengthAdjust="spacingAndGlyphs">10</text>
<text x="188.1" y="789.9" font-size="31.4" font-weight="normal" text-anchor="start">3</text>
<text x="134.4" y="949.4" font-size="44.7" font-weight="normal" text-anchor="start" textLength="51" lengthAdjust="spacingAndGlyphs">10</text>
<text x="188.1" y="933.9" font-size="31.4" font-weight="normal" text-anchor="start">0</text>
<text x="134.4" y="1142.6" font-size="44.7" font-weight="normal" text-anchor="start" textLength="51" lengthAdjust="spacingAndGlyphs">10</text>
<text x="187.2" y="1127.1" font-size="31.4" font-weight="normal" text-anchor="start">1</text>
<text x="134.4" y="1336.4" font-size="44.7" font-weight="normal" text-anchor="start" textLength="51" lengthAdjust="spacingAndGlyphs">10</text>
<text x="187.2" y="1321" font-size="31.4" font-weight="normal" text-anchor="start">2</text>
<text x="134.4" y="1529.6" font-size="44.7" font-weight="normal" text-anchor="start" textLength="51" lengthAdjust="spacingAndGlyphs">10</text>
<text x="188.1" y="1514.2" font-size="31.4" font-weight="normal" text-anchor="start">3</text>
<text x="134.4" y="1631" font-size="44.7" font-weight="normal" text-anchor="start" textLength="51" lengthAdjust="spacingAndGlyphs">10</text>
<text x="188.1" y="1615.6" font-size="31.4" font-weight="normal" text-anchor="start">0</text>
<text x="134.4" y="1824.2" font-size="44.7" font-weight="normal" text-anchor="start" textLength="51" lengthAdjust="spacingAndGlyphs">10</text>
<text x="187.2" y="1809.4" font-size="31.4" font-weight="normal" text-anchor="start">1</text>
<text x="134.4" y="2018.1" font-size="44.7" font-weight="normal" text-anchor="start" textLength="51" lengthAdjust="spacingAndGlyphs">10</text>
<text x="187.2" y="2002.6" font-size="31.4" font-weight="normal" text-anchor="start">2</text>
<text x="134.4" y="2211.9" font-size="44.7" font-weight="normal" text-anchor="start" textLength="51" lengthAdjust="spacingAndGlyphs">10</text>
<text x="188.1" y="2196.5" font-size="31.4" font-weight="normal" text-anchor="start">3</text>
<text x="134.4" y="2312.6" font-size="44.7" font-weight="normal" text-anchor="start" textLength="51" lengthAdjust="spacingAndGlyphs">10</text>
<text x="188.1" y="2297.2" font-size="31.4" font-weight="normal" text-anchor="start">0</text>
<text x="134.4" y="2506.5" font-size="44.7" font-weight="normal" text-anchor="start" textLength="51" lengthAdjust="spacingAndGlyphs">10</text>
<text x="187.2" y="2491.1" font-size="31.4" font-weight="normal" text-anchor="start">1</text>
<text x="134.4" y="2700.4" font-size="44.7" font-weight="normal" text-anchor="start" textLength="51" lengthAdjust="spacingAndGlyphs">10</text>
<text x="187.2" y="2684.9" font-size="31.4" font-weight="normal" text-anchor="start">2</text>
<text x="134.4" y="2893.6" font-size="44.7" font-weight="normal" text-anchor="start" textLength="51" lengthAdjust="spacingAndGlyphs">10</text>
<text x="188.1" y="2878.1" font-size="31.4" font-weight="normal" text-anchor="start">3</text>
<text x="2961.3" y="276.9" font-size="44.1" font-weight="normal" text-anchor="start" textLength="143.6" lengthAdjust="spacingAndGlyphs">290.22</text>
<text x="2961.3" y="1001.2" font-size="44.1" font-weight="normal" text-anchor="start" textLength="143.6" lengthAdjust="spacingAndGlyphs">290.22</text>
<text x="2961.3" y="382.1" font-size="44.1" font-weight="normal" text-anchor="start" textLength="142.6" lengthAdjust="spacingAndGlyphs">270.64</text>
<text x="2961.3" y="1107.1" font-size="44.1" font-weight="normal" text-anchor="start" textLength="142.6" lengthAdjust="spacingAndGlyphs">270.64</text>
<text x="2961.3" y="488" font-size="44.1" font-weight="normal" text-anchor="start" textLength="143.6" lengthAdjust="spacingAndGlyphs">251.06</text>
<text x="2961.3" y="1212.9" font-size="44.1" font-weight="normal" text-anchor="start" textLength="143.6" lengthAdjust="spacingAndGlyphs">251.06</text>
<text x="2961.3" y="593.2" font-size="44.1" font-weight="normal" text-anchor="start" textLength="143.6" lengthAdjust="spacingAndGlyphs">231.48</text>
<text x="2961.3" y="1318.1" font-size="44.1" font-weight="normal" text-anchor="start" textLength="143.6" lengthAdjust="spacingAndGlyphs">231.48</text>
<text x="2961.3" y="699.1" font-size="44.1" font-weight="normal" text-anchor="start" textLength="143.6" lengthAdjust="spacingAndGlyphs">211.90</text>
<text x="2961.3" y="1424" font-size="44.1" font-weight="normal" text-anchor="start" textLength="143.6" lengthAdjust="spacingAndGlyphs">211.90</text>
<text x="2960.4" y="804.9" font-size="44.1" font-weight="normal" text-anchor="start" textLength="144.7" lengthAdjust="spacingAndGlyphs">192.32</text>
<text x="2960.4" y="1529.2" font-size="44.1" font-weight="normal" text-anchor="start" textLength="144.7" lengthAdjust="spacingAndGlyphs">192.32</text>
<text x="2962.2" y="1684.5" font-size="44" font-weight="normal" text-anchor="start" textLength="89.6" lengthAdjust="spacingAndGlyphs">4.55</text>
<text x="2961.3" y="1790.4" font-size="44" font-weight="normal" text-anchor="start" textLength="90.7" lengthAdjust="spacingAndGlyphs">2.53</text>
<text x="2962.2" y="1895.6" font-size="44" font-weight="normal" text-anchor="start" textLength="89.7" lengthAdjust="spacingAndGlyphs">0.51</text>
<text x="2963.8" y="2001.4" font-size="44" font-weight="normal" text-anchor="start" textLength="123.1" lengthAdjust="spacingAndGlyphs">−1.52</text>
<text x="2963.8" y="2106.6" font-size="44" font-weight="normal" text-anchor="start" textLength="122.1" lengthAdjust="spacingAndGlyphs">−3.54</text>
<text x="2963.8" y="2212.5" font-size="44" font-weight="normal" text-anchor="start" textLength="123.1" lengthAdjust="spacingAndGlyphs">−5.57</text>
<text x="2961.3" y="2365.2" font-size="43.3" font-weight="normal" text-anchor="start" textLength="50.3" lengthAdjust="spacingAndGlyphs">50</text>
<text x="2961.3" y="2444.9" font-size="43.3" font-weight="normal" text-anchor="start" textLength="50.3" lengthAdjust="spacingAndGlyphs">20</text>
<text x="2961.3" y="2524" font-size="43.3" font-weight="normal" text-anchor="start">6</text>
<text x="2962.2" y="2603.1" font-size="43.3" font-weight="normal" text-anchor="start">0</text>
<text x="2963.8" y="2682.1" font-size="43.3" font-weight="normal" text-anchor="start" textLength="58.4" lengthAdjust="spacingAndGlyphs">−6</text>
<text x="2963.8" y="2761.2" font-size="43.3" font-weight="normal" text-anchor="start" textLength="83.8" lengthAdjust="spacingAndGlyphs">−20</text>
<text x="2963.8" y="2840.9" font-size="43.3" font-weight="normal" text-anchor="start" textLength="83.8" lengthAdjust="spacingAndGlyphs">−50</text>
<rect x="325.5" y="1579.2" width="20.8" height="2.6" fill="#000"/>
<text transform="translate(60,1688.6) rotate(-90)" font-size="44.3" textLength="339.5" lengthAdjust="spacingAndGlyphs">PRESSURE [hPa]</text>
</svg></body></html>
